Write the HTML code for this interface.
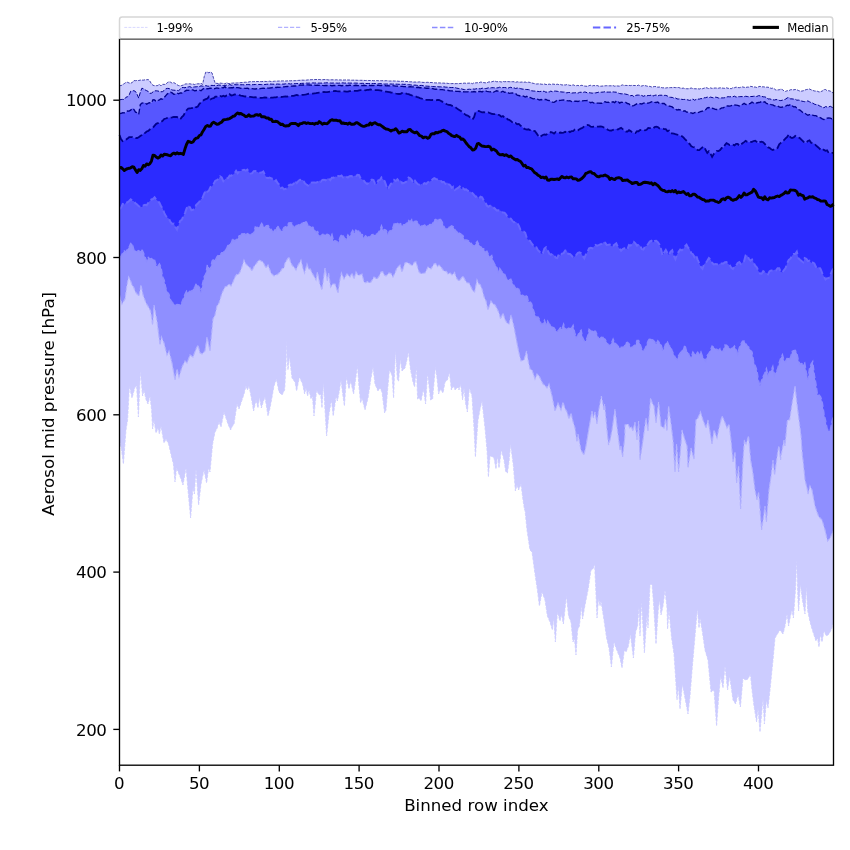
<!DOCTYPE html>
<html><head><meta charset="utf-8"><title>Aerosol mid pressure percentiles</title>
<style>
html,body{margin:0;padding:0;background:#fff}
svg{display:block}
text.tk{letter-spacing:-0.5px}
text.lt{font-size:11.67px !important;letter-spacing:-0.22px}
text{font-family:"DejaVu Sans","Liberation Sans",sans-serif;font-size:16.67px;fill:#000}
</style></head><body>
<svg width="850" height="850" viewBox="0 0 850 850">
<rect width="850" height="850" fill="#fff"/>
<g id="bands">
<polygon points="119.5,85.6 121.1,85.6 122.7,84.6 124.3,83.6 125.9,82.4 127.5,82.3 129.1,83.0 130.7,83.2 132.3,82.5 133.9,80.5 135.5,80.7 137.1,80.4 138.7,80.5 140.3,80.1 141.9,80.1 143.5,80.1 145.1,79.8 146.7,79.7 148.3,79.6 149.8,80.9 151.4,83.8 153.0,85.3 154.6,85.7 156.2,85.7 157.8,85.5 159.4,84.3 161.0,85.9 162.6,84.3 164.2,84.4 165.8,84.4 167.4,82.5 169.0,81.8 170.6,82.2 172.2,83.2 173.8,82.6 175.4,83.5 177.0,84.7 178.6,85.6 180.2,85.9 181.8,85.5 183.4,85.0 185.0,84.0 186.6,83.9 188.2,83.9 189.8,83.8 191.4,84.1 193.0,84.0 194.6,84.6 196.2,83.9 197.8,83.8 199.4,83.8 201.0,83.3 202.6,84.4 204.2,76.7 205.8,72.1 207.4,72.2 208.9,72.8 210.5,71.9 212.1,73.1 213.7,78.7 215.3,83.5 216.9,83.3 218.5,83.6 220.1,83.1 221.7,83.3 223.3,83.4 224.9,83.9 226.5,82.7 228.1,83.5 229.7,83.5 231.3,83.1 232.9,83.1 234.5,82.9 236.1,83.0 237.7,82.9 239.3,82.7 240.9,82.6 242.5,82.5 244.1,82.3 245.7,82.2 247.3,82.3 248.9,81.9 250.5,81.6 252.1,81.7 253.7,81.6 255.3,81.6 256.9,81.5 258.5,81.5 260.1,81.5 261.7,81.6 263.3,81.4 264.9,81.4 266.5,81.5 268.1,81.4 269.6,81.2 271.2,81.5 272.8,81.4 274.4,81.2 276.0,81.1 277.6,81.1 279.2,81.0 280.8,81.0 282.4,80.9 284.0,80.9 285.6,81.0 287.2,80.9 288.8,80.7 290.4,80.8 292.0,80.7 293.6,80.7 295.2,80.7 296.8,80.5 298.4,80.4 300.0,80.3 301.6,80.1 303.2,80.2 304.8,80.2 306.4,80.1 308.0,79.9 309.6,79.8 311.2,79.7 312.8,79.6 314.4,79.6 316.0,79.5 317.6,79.6 319.2,79.5 320.8,79.7 322.4,79.7 324.0,79.6 325.6,79.5 327.2,79.7 328.7,79.9 330.3,79.8 331.9,79.8 333.5,79.8 335.1,79.9 336.7,79.8 338.3,80.0 339.9,79.9 341.5,80.0 343.1,80.0 344.7,80.0 346.3,79.9 347.9,80.0 349.5,80.0 351.1,80.2 352.7,80.2 354.3,80.1 355.9,80.2 357.5,80.3 359.1,80.3 360.7,80.3 362.3,80.3 363.9,80.4 365.5,80.5 367.1,80.4 368.7,80.5 370.3,80.5 371.9,80.5 373.5,80.7 375.1,80.7 376.7,80.6 378.3,80.7 379.9,80.7 381.5,80.7 383.1,80.7 384.7,80.8 386.3,80.7 387.8,80.8 389.4,81.0 391.0,81.0 392.6,80.9 394.2,81.0 395.8,81.0 397.4,81.1 399.0,81.3 400.6,81.3 402.2,81.3 403.8,81.3 405.4,81.5 407.0,81.5 408.6,81.7 410.2,81.8 411.8,81.8 413.4,82.1 415.0,82.0 416.6,82.2 418.2,82.0 419.8,81.9 421.4,82.2 423.0,82.4 424.6,82.4 426.2,82.4 427.8,82.3 429.4,82.5 431.0,82.5 432.6,82.6 434.2,82.8 435.8,82.9 437.4,82.9 439.0,82.9 440.6,83.0 442.2,83.1 443.8,83.1 445.4,83.3 446.9,83.2 448.5,83.5 450.1,83.4 451.7,83.6 453.3,83.5 454.9,83.7 456.5,83.6 458.1,83.6 459.7,83.5 461.3,83.4 462.9,83.3 464.5,83.1 466.1,83.3 467.7,83.2 469.3,83.1 470.9,83.1 472.5,83.7 474.1,82.7 475.7,82.9 477.3,82.7 478.9,82.8 480.5,82.1 482.1,82.2 483.7,82.6 485.3,82.8 486.9,82.8 488.5,82.0 490.1,81.9 491.7,81.8 493.3,81.3 494.9,81.1 496.5,81.7 498.1,81.7 499.7,81.6 501.3,82.0 502.9,81.4 504.5,81.7 506.1,81.6 507.6,81.6 509.2,81.7 510.8,81.7 512.4,81.7 514.0,81.7 515.6,82.3 517.2,81.8 518.8,82.1 520.4,82.2 522.0,82.0 523.6,82.3 525.2,82.0 526.8,82.6 528.4,82.2 530.0,82.4 531.6,82.9 533.2,83.3 534.8,83.7 536.4,84.0 538.0,83.9 539.6,83.8 541.2,84.2 542.8,84.3 544.4,84.0 546.0,84.5 547.6,84.5 549.2,84.1 550.8,84.5 552.4,84.1 554.0,84.2 555.6,84.6 557.2,84.2 558.8,84.6 560.4,84.4 562.0,85.0 563.6,84.8 565.2,85.0 566.7,84.6 568.3,84.9 569.9,85.4 571.5,85.4 573.1,84.8 574.7,85.5 576.3,85.7 577.9,85.4 579.5,85.9 581.1,85.3 582.7,85.5 584.3,86.0 585.9,86.2 587.5,86.3 589.1,85.6 590.7,85.3 592.3,85.9 593.9,85.5 595.5,85.8 597.1,85.5 598.7,86.1 600.3,86.2 601.9,86.1 603.5,85.9 605.1,85.8 606.7,85.7 608.3,85.8 609.9,85.8 611.5,85.8 613.1,85.6 614.7,86.2 616.3,85.8 617.9,86.0 619.5,86.1 621.1,85.4 622.7,84.9 624.3,85.6 625.8,85.4 627.4,85.5 629.0,85.4 630.6,85.6 632.2,85.3 633.8,85.5 635.4,85.5 637.0,85.7 638.6,85.1 640.2,85.9 641.8,86.0 643.4,85.5 645.0,85.6 646.6,86.0 648.2,86.4 649.8,86.4 651.4,86.9 653.0,86.8 654.6,86.5 656.2,86.6 657.8,87.2 659.4,87.0 661.0,87.5 662.6,87.8 664.2,87.8 665.8,88.0 667.4,87.7 669.0,87.7 670.6,87.6 672.2,87.6 673.8,87.4 675.4,87.6 677.0,87.6 678.6,87.5 680.2,88.0 681.8,88.3 683.4,88.1 684.9,88.7 686.5,88.7 688.1,88.8 689.7,88.4 691.3,88.0 692.9,88.6 694.5,88.7 696.1,88.8 697.7,88.7 699.3,89.0 700.9,88.5 702.5,88.7 704.1,88.2 705.7,87.6 707.3,88.0 708.9,88.7 710.5,87.9 712.1,88.4 713.7,88.1 715.3,88.0 716.9,88.1 718.5,88.2 720.1,87.8 721.7,88.0 723.3,88.2 724.9,88.3 726.5,87.8 728.1,88.3 729.7,88.5 731.3,88.7 732.9,87.6 734.5,87.7 736.1,87.1 737.7,87.5 739.3,87.7 740.9,87.2 742.5,86.9 744.1,87.3 745.6,87.5 747.2,87.1 748.8,87.1 750.4,86.4 752.0,86.6 753.6,87.0 755.2,87.0 756.8,87.5 758.4,86.8 760.0,86.3 761.6,86.9 763.2,86.8 764.8,87.0 766.4,87.2 768.0,87.2 769.6,87.7 771.2,88.4 772.8,88.1 774.4,88.9 776.0,90.2 777.6,89.9 779.2,89.8 780.8,89.1 782.4,89.6 784.0,90.9 785.6,91.4 787.2,90.7 788.8,90.7 790.4,89.8 792.0,89.6 793.6,89.8 795.2,89.5 796.8,89.7 798.4,90.5 800.0,91.1 801.6,91.1 803.2,90.8 804.7,90.1 806.3,89.6 807.9,89.3 809.5,89.0 811.1,89.8 812.7,90.4 814.3,90.9 815.9,91.1 817.5,91.3 819.1,92.0 820.7,91.6 822.3,91.0 823.9,89.6 825.5,89.5 827.1,90.7 828.7,90.7 830.3,91.1 831.9,92.1 833.5,93.4 833.5,622.0 831.6,629.0 829.0,634.0 826.4,636.0 824.0,631.0 822.0,642.0 820.4,634.0 819.0,647.0 817.6,638.0 816.0,641.0 813.0,632.0 811.3,626.6 809.6,620.0 807.6,610.0 806.4,586.0 805.0,614.0 802.4,600.0 800.4,584.0 798.6,611.0 798.0,600.0 796.6,560.0 795.6,588.0 793.4,618.0 792.0,610.0 790.3,616.7 788.6,626.0 787.0,614.0 785.0,626.0 783.0,634.0 780.0,630.0 778.0,633.0 775.0,638.0 773.0,660.0 772.4,666.0 770.0,690.0 768.0,708.0 766.4,700.0 764.4,724.0 763.0,698.0 760.0,732.0 758.0,708.0 756.6,722.0 754.0,706.0 752.0,690.0 750.4,674.0 748.0,679.0 745.0,680.0 743.0,678.0 740.4,707.0 738.0,694.0 735.6,704.0 733.0,700.0 731.3,687.8 729.6,676.0 727.6,690.0 725.0,666.0 723.0,688.0 720.6,676.0 718.6,698.0 716.6,726.0 714.0,690.0 711.0,692.0 708.0,660.0 705.0,650.0 702.4,632.0 700.0,618.0 699.0,628.0 697.4,608.0 695.0,636.0 692.4,666.0 690.0,696.0 688.0,714.0 685.0,698.0 682.4,684.0 680.0,709.0 678.4,686.0 677.0,700.0 675.6,678.0 674.0,654.0 671.6,638.0 669.0,610.0 667.6,629.0 667.0,608.0 665.0,590.0 663.0,606.0 661.0,615.0 659.6,600.0 658.4,608.0 656.0,644.0 653.6,604.0 652.0,584.0 650.0,585.0 648.0,628.0 647.0,614.0 644.4,653.0 641.6,602.0 640.0,636.0 639.0,606.0 637.6,626.0 635.6,632.0 633.4,658.0 630.4,634.0 628.4,646.0 626.0,652.0 624.4,650.0 622.0,668.0 620.0,658.0 618.0,653.0 616.0,648.0 614.0,642.0 611.4,667.0 609.0,648.0 606.6,638.0 604.0,620.0 601.0,601.0 600.0,606.0 598.6,598.0 597.0,618.0 596.0,594.0 594.6,564.0 593.0,569.0 591.0,570.0 588.0,590.0 586.0,600.0 584.3,608.9 582.6,619.0 581.4,606.0 579.4,626.0 577.6,630.0 576.0,655.0 574.4,638.0 573.0,642.0 571.0,622.0 568.6,616.0 566.4,596.0 563.4,624.0 561.4,614.0 560.0,621.0 557.4,612.0 555.4,642.0 553.6,618.0 552.4,630.0 550.0,622.0 547.4,616.0 545.0,600.0 542.0,592.0 539.4,606.0 537.4,590.0 535.0,574.0 532.0,552.0 530.0,550.0 527.0,530.0 525.0,510.0 524.6,510.0 523.0,500.0 521.0,484.0 518.6,490.0 517.0,485.0 515.4,491.0 513.4,466.0 510.6,444.0 509.0,462.0 507.4,473.0 505.7,471.5 504.0,460.0 501.4,450.0 499.0,468.0 497.4,456.0 496.0,469.0 494.0,458.0 492.0,456.4 490.0,456.0 488.4,477.0 487.0,450.0 485.0,428.0 482.0,401.0 480.0,409.6 478.0,420.0 475.4,457.0 474.0,428.0 472.0,396.0 469.4,388.0 467.4,412.0 465.7,403.9 464.0,388.0 462.6,400.0 460.6,384.0 459.0,390.0 458.0,387.0 455.0,390.0 454.6,388.0 453.0,386.5 451.4,390.0 449.4,372.0 447.4,380.0 445.0,382.0 443.0,393.0 440.6,389.0 438.6,394.0 437.0,377.9 435.4,367.0 432.6,399.0 430.6,400.0 427.6,373.0 425.6,404.0 423.4,389.0 421.0,401.0 419.4,398.0 417.6,399.0 416.4,367.0 414.6,387.0 413.0,382.0 410.6,370.0 408.4,352.0 406.7,360.9 405.0,368.0 402.0,371.0 400.4,359.0 398.6,381.0 397.4,380.0 395.4,350.0 393.6,398.0 392.0,375.0 389.4,370.0 387.7,388.9 386.0,410.0 384.6,413.0 382.0,392.0 380.0,388.0 378.0,391.0 375.0,384.0 373.0,367.0 371.0,378.0 368.0,398.0 365.0,410.0 362.0,398.0 360.6,403.0 359.0,386.8 357.4,366.0 355.5,380.3 353.6,394.0 350.6,381.0 349.0,389.0 346.4,377.0 344.4,406.0 342.7,393.8 341.0,380.0 339.2,391.7 337.4,401.0 336.0,397.0 333.2,416.0 331.4,400.0 329.0,414.0 326.6,436.0 325.0,410.0 323.4,382.0 322.0,408.0 320.6,394.0 319.0,395.0 316.6,390.0 314.0,416.0 312.4,396.0 311.0,399.0 309.0,390.0 307.6,396.0 306.0,388.0 304.6,394.0 302.6,384.0 301.0,380.6 299.4,377.0 296.6,391.0 295.0,382.0 292.0,378.0 289.4,356.0 288.0,370.0 287.2,360.0 286.6,340.0 286.2,360.0 285.0,384.0 284.6,390.0 282.0,395.0 279.0,392.0 276.4,379.0 274.0,386.0 272.0,397.2 270.0,408.0 268.0,416.0 265.0,397.0 263.2,401.7 261.4,408.0 259.4,397.0 258.0,408.0 256.0,400.0 253.6,411.0 251.0,396.0 249.0,386.0 247.4,390.0 246.0,386.0 244.0,393.9 242.0,400.0 239.0,409.0 237.0,404.0 234.0,424.0 232.3,426.2 230.6,430.0 228.0,424.0 226.0,418.0 224.0,412.0 221.0,427.0 219.0,422.0 217.0,428.5 215.0,432.0 212.6,444.0 210.0,472.0 208.6,468.0 206.6,483.0 204.0,470.0 201.0,484.0 198.6,505.0 196.0,469.0 194.4,494.0 193.0,488.0 190.6,518.0 188.0,490.0 186.0,468.0 183.0,485.0 181.0,479.0 179.0,474.0 176.6,468.0 175.0,482.0 173.4,464.0 171.4,456.0 168.6,444.0 166.0,439.0 164.0,443.0 161.0,426.0 159.4,434.0 158.0,428.0 156.0,433.0 154.0,420.0 152.6,429.0 151.6,410.0 150.0,396.0 148.0,404.0 146.0,399.6 144.0,390.0 142.6,396.0 140.4,371.0 138.4,417.0 136.6,386.0 135.0,387.0 132.0,398.0 129.4,386.0 127.6,420.0 126.0,430.0 123.4,464.0 121.5,449.5 119.5,440.0" fill="#ccccff"/>
<polygon points="119.5,99.9 121.1,99.5 122.7,99.4 124.3,99.6 125.9,97.3 127.5,96.7 129.1,95.2 130.7,91.2 132.3,90.9 133.9,90.7 135.5,91.5 137.1,94.3 138.7,98.1 140.3,92.3 141.9,88.2 143.5,88.8 145.1,89.9 146.7,90.7 148.3,91.5 149.8,93.3 151.4,93.2 153.0,91.9 154.6,90.9 156.2,90.8 157.8,91.0 159.4,91.4 161.0,91.8 162.6,91.6 164.2,90.4 165.8,88.8 167.4,88.4 169.0,88.5 170.6,89.2 172.2,90.0 173.8,90.2 175.4,90.3 177.0,90.3 178.6,90.7 180.2,89.2 181.8,87.6 183.4,87.5 185.0,87.8 186.6,86.9 188.2,87.0 189.8,86.6 191.4,87.4 193.0,87.1 194.6,86.9 196.2,86.8 197.8,86.6 199.4,86.5 201.0,85.8 202.6,86.2 204.2,86.3 205.8,85.6 207.4,86.1 208.9,86.2 210.5,85.4 212.1,85.4 213.7,85.5 215.3,85.3 216.9,85.6 218.5,85.1 220.1,85.2 221.7,85.4 223.3,85.6 224.9,85.4 226.5,85.2 228.1,85.4 229.7,84.5 231.3,85.2 232.9,85.0 234.5,84.6 236.1,84.8 237.7,84.7 239.3,84.6 240.9,84.8 242.5,84.7 244.1,84.9 245.7,84.7 247.3,84.6 248.9,84.6 250.5,84.8 252.1,84.7 253.7,84.6 255.3,84.5 256.9,84.4 258.5,84.5 260.1,84.5 261.7,84.6 263.3,84.6 264.9,84.5 266.5,84.3 268.1,84.2 269.6,84.0 271.2,84.1 272.8,84.2 274.4,84.2 276.0,84.2 277.6,84.0 279.2,84.2 280.8,84.1 282.4,84.1 284.0,84.1 285.6,83.8 287.2,83.8 288.8,83.7 290.4,84.0 292.0,83.8 293.6,83.7 295.2,83.7 296.8,83.5 298.4,83.7 300.0,83.5 301.6,83.4 303.2,83.3 304.8,83.4 306.4,83.1 308.0,83.2 309.6,83.1 311.2,83.1 312.8,82.9 314.4,83.0 316.0,83.0 317.6,83.1 319.2,83.1 320.8,83.1 322.4,83.1 324.0,83.0 325.6,82.9 327.2,82.8 328.7,83.0 330.3,83.0 331.9,83.1 333.5,83.0 335.1,82.9 336.7,83.1 338.3,83.2 339.9,83.0 341.5,82.9 343.1,82.9 344.7,83.1 346.3,83.0 347.9,83.0 349.5,83.1 351.1,83.1 352.7,83.2 354.3,83.1 355.9,83.1 357.5,83.2 359.1,83.3 360.7,83.4 362.3,83.3 363.9,83.4 365.5,83.5 367.1,83.5 368.7,83.5 370.3,83.6 371.9,83.6 373.5,83.6 375.1,83.5 376.7,83.7 378.3,83.7 379.9,83.7 381.5,83.7 383.1,83.8 384.7,84.1 386.3,84.0 387.8,84.0 389.4,84.0 391.0,84.0 392.6,84.1 394.2,84.0 395.8,84.1 397.4,84.2 399.0,84.3 400.6,84.3 402.2,84.2 403.8,84.4 405.4,84.3 407.0,84.6 408.6,84.7 410.2,84.8 411.8,85.0 413.4,85.2 415.0,85.1 416.6,85.3 418.2,85.5 419.8,85.5 421.4,85.4 423.0,85.7 424.6,85.9 426.2,86.1 427.8,86.2 429.4,86.3 431.0,86.3 432.6,86.6 434.2,86.6 435.8,86.7 437.4,86.6 439.0,86.9 440.6,86.8 442.2,87.0 443.8,86.8 445.4,87.1 446.9,87.2 448.5,87.2 450.1,87.5 451.7,87.5 453.3,87.5 454.9,87.5 456.5,88.1 458.1,88.4 459.7,88.7 461.3,88.8 462.9,89.3 464.5,89.6 466.1,89.5 467.7,89.4 469.3,89.2 470.9,89.4 472.5,88.8 474.1,89.2 475.7,88.9 477.3,88.6 478.9,88.8 480.5,88.8 482.1,88.2 483.7,88.3 485.3,88.6 486.9,88.3 488.5,87.8 490.1,88.0 491.7,87.7 493.3,87.7 494.9,87.9 496.5,87.9 498.1,87.8 499.7,87.2 501.3,87.7 502.9,87.6 504.5,87.5 506.1,87.7 507.6,88.4 509.2,87.6 510.8,87.3 512.4,88.0 514.0,87.8 515.6,88.5 517.2,88.0 518.8,88.1 520.4,88.6 522.0,89.0 523.6,89.2 525.2,89.4 526.8,89.5 528.4,89.6 530.0,90.0 531.6,90.8 533.2,91.0 534.8,91.1 536.4,91.2 538.0,91.4 539.6,91.6 541.2,91.3 542.8,91.2 544.4,91.4 546.0,92.3 547.6,91.7 549.2,92.0 550.8,91.1 552.4,91.7 554.0,91.1 555.6,91.1 557.2,91.3 558.8,91.6 560.4,91.8 562.0,92.0 563.6,92.1 565.2,91.9 566.7,92.9 568.3,92.5 569.9,92.5 571.5,93.1 573.1,92.9 574.7,92.8 576.3,92.7 577.9,93.2 579.5,92.4 581.1,92.2 582.7,92.6 584.3,92.0 585.9,92.2 587.5,93.0 589.1,92.7 590.7,92.9 592.3,93.2 593.9,92.6 595.5,92.9 597.1,92.6 598.7,92.2 600.3,92.2 601.9,92.2 603.5,92.0 605.1,91.7 606.7,92.1 608.3,92.1 609.9,92.1 611.5,92.0 613.1,91.9 614.7,92.1 616.3,92.2 617.9,92.9 619.5,93.5 621.1,93.8 622.7,93.8 624.3,93.8 625.8,94.2 627.4,94.5 629.0,95.0 630.6,95.7 632.2,95.4 633.8,96.5 635.4,95.5 637.0,95.1 638.6,95.1 640.2,95.2 641.8,95.5 643.4,96.3 645.0,95.6 646.6,95.9 648.2,95.5 649.8,95.5 651.4,95.0 653.0,96.0 654.6,95.4 656.2,95.0 657.8,95.9 659.4,95.3 661.0,95.2 662.6,95.3 664.2,95.4 665.8,95.4 667.4,96.0 669.0,97.1 670.6,97.3 672.2,97.4 673.8,98.1 675.4,97.9 677.0,98.9 678.6,99.0 680.2,98.8 681.8,99.4 683.4,99.5 684.9,99.4 686.5,99.6 688.1,100.0 689.7,100.4 691.3,99.8 692.9,99.0 694.5,100.2 696.1,99.5 697.7,99.1 699.3,99.1 700.9,98.6 702.5,98.7 704.1,97.8 705.7,97.7 707.3,97.1 708.9,97.7 710.5,97.1 712.1,97.5 713.7,97.9 715.3,97.2 716.9,97.4 718.5,98.0 720.1,98.0 721.7,97.9 723.3,97.9 724.9,97.7 726.5,97.0 728.1,96.7 729.7,96.8 731.3,96.7 732.9,96.7 734.5,96.2 736.1,97.1 737.7,96.7 739.3,96.7 740.9,96.6 742.5,96.6 744.1,96.7 745.6,96.3 747.2,96.5 748.8,96.8 750.4,96.5 752.0,96.5 753.6,96.3 755.2,96.1 756.8,96.5 758.4,95.7 760.0,95.8 761.6,96.3 763.2,96.8 764.8,96.9 766.4,97.4 768.0,99.0 769.6,98.9 771.2,99.3 772.8,99.8 774.4,100.0 776.0,99.6 777.6,99.6 779.2,100.4 780.8,100.6 782.4,100.2 784.0,99.7 785.6,99.1 787.2,97.9 788.8,97.5 790.4,98.8 792.0,98.9 793.6,99.1 795.2,99.2 796.8,100.2 798.4,100.1 800.0,100.3 801.6,101.1 803.2,101.4 804.7,101.7 806.3,101.4 807.9,100.9 809.5,101.8 811.1,102.6 812.7,103.1 814.3,104.1 815.9,104.6 817.5,104.6 819.1,105.7 820.7,106.4 822.3,107.1 823.9,107.8 825.5,106.6 827.1,107.0 828.7,106.9 830.3,106.3 831.9,107.2 833.5,107.9 833.5,530.0 831.8,534.0 830.0,538.0 827.6,541.0 825.0,530.0 822.0,520.0 820.3,518.2 818.7,516.5 817.0,512.0 815.0,506.0 812.0,490.0 810.0,486.0 808.0,494.0 807.0,488.0 805.0,480.0 803.0,460.0 802.4,456.0 801.0,436.0 799.0,420.0 797.0,404.0 795.0,386.0 792.0,404.0 789.6,420.0 787.4,420.0 785.0,446.0 784.0,440.0 781.0,456.0 780.6,460.0 779.0,446.0 778.0,450.0 776.3,462.2 774.6,475.0 773.0,460.0 771.0,476.5 769.0,490.0 766.4,522.0 765.0,506.0 763.3,518.6 761.6,530.0 758.6,492.0 757.0,500.0 755.0,490.0 752.8,472.3 750.6,460.0 748.6,436.0 746.0,444.0 744.4,440.0 743.0,460.0 740.6,509.0 738.6,466.0 736.6,483.0 735.0,452.0 733.0,462.0 731.0,440.0 729.0,424.0 727.0,428.0 724.0,420.0 722.0,416.0 719.0,428.0 717.0,438.0 714.0,430.0 712.0,444.0 710.0,432.0 708.0,420.0 706.0,428.0 703.0,420.0 700.4,412.0 698.0,418.0 696.0,420.0 694.0,459.0 691.0,448.0 688.0,468.0 687.0,446.0 685.0,440.0 682.0,430.0 681.0,444.0 678.6,472.0 676.6,444.0 675.0,472.0 673.0,440.0 671.0,424.0 668.6,406.0 667.0,431.0 665.6,419.0 664.0,428.0 661.0,426.0 658.6,402.0 656.0,423.0 654.0,406.0 652.3,403.3 650.6,398.0 648.0,431.0 646.0,418.0 643.0,440.0 640.0,460.0 638.6,421.0 637.0,440.0 635.0,422.0 633.0,431.0 631.3,426.7 629.7,427.9 628.0,424.0 625.0,425.0 624.8,437.0 622.6,457.0 621.0,446.0 620.0,450.0 617.4,430.0 615.0,409.0 612.0,430.0 610.3,438.8 608.6,445.0 607.0,430.0 604.6,404.0 604.0,410.0 601.4,396.0 598.6,411.0 597.0,424.0 595.0,412.0 593.4,418.0 592.0,411.0 589.0,428.0 586.0,446.0 584.0,455.0 581.0,450.0 578.0,434.0 577.0,442.0 575.0,428.0 573.0,421.6 571.0,413.0 569.0,419.0 567.0,412.0 565.0,408.5 563.0,402.0 561.0,410.0 558.0,403.0 555.0,411.0 552.0,396.0 549.0,384.0 547.0,388.0 545.0,385.4 543.0,384.0 541.0,380.0 539.0,375.8 537.0,374.0 535.0,379.0 532.0,370.0 530.0,369.0 528.3,361.6 526.6,351.0 524.0,360.0 521.0,361.0 519.0,353.0 517.0,343.0 514.0,327.0 511.0,315.0 509.0,324.0 507.0,323.0 505.0,319.5 503.0,313.0 500.6,319.0 499.0,313.0 497.0,308.6 495.0,305.0 493.0,303.7 491.0,301.0 488.0,310.0 486.0,301.0 484.0,296.8 482.0,289.0 480.3,284.9 478.7,283.8 477.0,280.0 474.6,292.0 472.7,290.5 470.9,286.7 469.0,283.0 467.0,282.8 465.0,279.9 463.0,276.0 461.0,278.6 459.0,281.0 457.0,279.0 455.0,274.0 454.6,272.4 452.0,275.0 450.0,272.9 448.0,274.0 446.3,271.3 444.7,271.3 443.0,270.0 441.0,267.1 439.0,265.0 437.3,266.6 435.7,263.4 434.0,264.0 431.0,269.0 428.0,267.0 425.0,273.0 423.0,273.2 421.0,273.8 419.0,272.0 416.0,262.0 414.3,262.2 412.7,265.3 411.0,265.0 409.0,263.6 407.0,262.4 405.0,263.0 402.0,272.0 400.0,265.0 397.0,268.0 395.0,272.9 393.0,277.0 391.0,273.5 389.0,273.0 386.0,276.0 384.3,275.1 382.7,271.7 381.0,272.0 379.0,276.4 377.0,279.0 374.0,277.0 371.0,282.0 369.2,283.0 367.5,281.5 365.8,282.8 364.0,282.0 362.0,274.0 360.0,275.0 358.0,275.3 356.0,272.0 354.0,279.0 352.0,273.0 350.0,277.0 347.0,274.0 344.0,279.0 341.4,273.0 339.7,281.2 338.0,293.0 335.0,284.0 332.8,284.0 330.6,287.0 328.6,273.0 327.4,281.0 325.0,268.0 322.0,290.0 319.7,283.7 317.4,272.0 316.0,280.0 314.0,276.2 312.0,273.0 310.3,268.9 308.7,269.3 307.0,264.0 304.6,273.0 302.8,267.7 301.0,260.0 299.3,263.1 297.7,266.0 296.0,270.0 294.0,267.0 292.3,265.6 290.7,262.5 289.0,257.0 287.0,259.8 285.0,263.0 284.0,268.0 282.3,268.5 280.7,271.1 279.0,273.0 277.3,274.7 275.7,274.8 274.0,276.0 271.0,273.0 268.0,265.0 266.0,268.0 263.0,262.0 261.0,261.1 259.0,260.0 256.0,264.0 254.0,266.5 252.0,271.0 250.0,267.7 248.0,266.0 246.0,264.2 244.0,260.0 242.0,266.6 240.0,272.0 238.3,274.6 236.7,274.4 235.0,277.0 233.0,281.9 231.0,286.0 229.0,284.0 227.0,286.3 225.0,287.0 222.0,293.0 219.0,303.0 217.0,306.0 215.0,315.0 213.0,319.0 210.0,351.0 207.0,337.0 205.0,351.0 202.0,354.0 200.0,352.8 198.0,345.0 196.0,349.0 193.0,357.0 190.0,355.0 187.0,363.0 185.0,361.0 182.0,367.0 179.0,377.0 177.0,369.0 175.0,380.0 172.0,363.0 169.0,351.0 167.0,355.0 164.0,343.0 161.4,337.0 160.0,345.0 159.0,337.0 157.0,321.0 154.0,305.0 152.6,325.0 150.6,311.0 149.0,308.0 146.0,303.0 143.0,295.0 141.0,285.0 139.0,296.0 137.0,294.0 135.3,291.7 133.7,287.3 132.0,285.0 130.3,280.0 128.6,277.0 126.8,286.2 125.0,299.0 122.0,304.0 119.5,295.0" fill="#8f8fff"/>
<polygon points="119.5,113.5 121.1,113.3 122.7,112.8 124.3,112.9 125.9,112.4 127.5,111.0 129.1,111.1 130.7,110.2 132.3,108.3 133.9,109.4 135.5,112.1 137.1,112.7 138.7,114.3 140.3,104.6 141.9,103.2 143.5,102.8 145.1,102.8 146.7,104.2 148.3,103.2 149.8,102.8 151.4,102.9 153.0,99.7 154.6,100.0 156.2,101.5 157.8,100.5 159.4,99.8 161.0,98.8 162.6,99.1 164.2,97.5 165.8,95.6 167.4,93.8 169.0,93.0 170.6,92.3 172.2,92.9 173.8,94.3 175.4,94.2 177.0,92.9 178.6,93.8 180.2,92.9 181.8,93.0 183.4,91.6 185.0,91.1 186.6,90.3 188.2,90.4 189.8,90.1 191.4,89.9 193.0,89.9 194.6,90.8 196.2,90.5 197.8,90.4 199.4,90.2 201.0,90.7 202.6,89.2 204.2,88.3 205.8,88.7 207.4,88.7 208.9,88.5 210.5,88.1 212.1,88.5 213.7,88.9 215.3,88.3 216.9,87.9 218.5,88.4 220.1,87.9 221.7,87.6 223.3,87.8 224.9,86.7 226.5,88.2 228.1,87.7 229.7,87.8 231.3,87.7 232.9,87.7 234.5,86.9 236.1,87.6 237.7,87.7 239.3,87.8 240.9,88.3 242.5,88.0 244.1,88.2 245.7,88.3 247.3,88.2 248.9,88.7 250.5,88.5 252.1,88.7 253.7,88.9 255.3,89.0 256.9,88.7 258.5,88.9 260.1,88.7 261.7,88.4 263.3,88.2 264.9,88.3 266.5,88.0 268.1,88.1 269.6,88.0 271.2,87.8 272.8,87.5 274.4,87.4 276.0,87.5 277.6,87.3 279.2,87.4 280.8,87.0 282.4,86.9 284.0,86.8 285.6,86.6 287.2,86.5 288.8,86.4 290.4,86.2 292.0,86.1 293.6,85.9 295.2,86.0 296.8,85.8 298.4,85.7 300.0,85.0 301.6,85.1 303.2,84.9 304.8,85.0 306.4,84.9 308.0,84.9 309.6,85.0 311.2,85.2 312.8,85.3 314.4,85.1 316.0,85.3 317.6,85.1 319.2,85.3 320.8,85.1 322.4,85.4 324.0,85.6 325.6,85.4 327.2,85.5 328.7,85.2 330.3,85.3 331.9,85.7 333.5,85.5 335.1,85.5 336.7,85.3 338.3,85.4 339.9,85.4 341.5,85.7 343.1,85.5 344.7,85.9 346.3,85.5 347.9,85.6 349.5,85.3 351.1,85.4 352.7,85.6 354.3,85.5 355.9,85.3 357.5,85.5 359.1,85.6 360.7,85.5 362.3,85.6 363.9,85.3 365.5,85.6 367.1,85.6 368.7,85.2 370.3,85.6 371.9,85.5 373.5,85.6 375.1,85.3 376.7,85.4 378.3,85.2 379.9,85.6 381.5,85.5 383.1,85.4 384.7,85.5 386.3,85.8 387.8,85.7 389.4,85.9 391.0,85.8 392.6,85.7 394.2,85.9 395.8,86.1 397.4,86.2 399.0,86.4 400.6,86.4 402.2,86.4 403.8,86.6 405.4,86.7 407.0,86.8 408.6,86.9 410.2,86.7 411.8,86.9 413.4,86.9 415.0,87.2 416.6,87.5 418.2,87.3 419.8,87.7 421.4,87.7 423.0,87.8 424.6,87.9 426.2,88.2 427.8,88.2 429.4,88.1 431.0,88.6 432.6,88.7 434.2,89.0 435.8,89.2 437.4,89.1 439.0,89.4 440.6,89.6 442.2,89.7 443.8,89.9 445.4,90.1 446.9,90.2 448.5,90.5 450.1,90.8 451.7,90.8 453.3,91.1 454.9,91.2 456.5,91.3 458.1,91.4 459.7,91.5 461.3,91.8 462.9,91.7 464.5,91.8 466.1,91.8 467.7,91.8 469.3,91.4 470.9,91.8 472.5,91.9 474.1,91.5 475.7,91.9 477.3,92.5 478.9,91.5 480.5,91.4 482.1,92.0 483.7,90.8 485.3,90.8 486.9,91.3 488.5,91.7 490.1,91.9 491.7,91.7 493.3,92.3 494.9,91.5 496.5,90.8 498.1,91.2 499.7,91.8 501.3,92.0 502.9,91.2 504.5,92.2 506.1,92.1 507.6,92.4 509.2,93.4 510.8,93.2 512.4,93.0 514.0,93.3 515.6,93.5 517.2,95.2 518.8,95.5 520.4,96.0 522.0,95.9 523.6,96.2 525.2,97.1 526.8,96.4 528.4,97.9 530.0,97.5 531.6,98.2 533.2,98.8 534.8,98.6 536.4,99.1 538.0,99.3 539.6,100.0 541.2,99.5 542.8,100.0 544.4,99.5 546.0,99.4 547.6,100.4 549.2,100.5 550.8,101.2 552.4,102.1 554.0,102.3 555.6,101.4 557.2,100.0 558.8,100.5 560.4,100.3 562.0,100.1 563.6,99.9 565.2,100.5 566.7,100.7 568.3,100.9 569.9,100.7 571.5,101.5 573.1,101.0 574.7,101.2 576.3,101.2 577.9,101.5 579.5,100.8 581.1,100.8 582.7,100.8 584.3,100.7 585.9,100.6 587.5,100.5 589.1,101.7 590.7,102.7 592.3,102.2 593.9,103.1 595.5,102.8 597.1,103.1 598.7,103.1 600.3,103.2 601.9,103.2 603.5,102.0 605.1,101.8 606.7,102.3 608.3,102.1 609.9,103.0 611.5,102.2 613.1,101.8 614.7,102.6 616.3,101.1 617.9,101.0 619.5,103.1 621.1,102.3 622.7,102.4 624.3,102.3 625.8,102.4 627.4,103.5 629.0,103.9 630.6,105.6 632.2,105.8 633.8,105.6 635.4,104.7 637.0,103.8 638.6,104.0 640.2,103.6 641.8,104.0 643.4,103.1 645.0,103.0 646.6,103.1 648.2,103.1 649.8,102.7 651.4,101.8 653.0,101.5 654.6,102.4 656.2,102.5 657.8,102.1 659.4,103.5 661.0,103.2 662.6,103.5 664.2,103.4 665.8,105.0 667.4,105.4 669.0,106.0 670.6,106.4 672.2,106.9 673.8,108.3 675.4,109.0 677.0,110.1 678.6,109.5 680.2,109.8 681.8,110.7 683.4,111.1 684.9,110.8 686.5,112.0 688.1,112.2 689.7,112.7 691.3,112.9 692.9,113.5 694.5,112.7 696.1,112.4 697.7,112.7 699.3,112.2 700.9,111.5 702.5,111.2 704.1,110.2 705.7,109.6 707.3,107.8 708.9,107.5 710.5,108.5 712.1,108.3 713.7,108.7 715.3,109.3 716.9,109.5 718.5,109.4 720.1,108.8 721.7,107.9 723.3,107.8 724.9,106.7 726.5,105.9 728.1,106.0 729.7,106.1 731.3,105.7 732.9,105.0 734.5,105.0 736.1,105.2 737.7,105.4 739.3,105.9 740.9,105.0 742.5,104.5 744.1,103.4 745.6,104.4 747.2,104.5 748.8,103.9 750.4,103.3 752.0,102.1 753.6,103.1 755.2,102.6 756.8,103.0 758.4,102.5 760.0,102.3 761.6,101.3 763.2,102.1 764.8,101.8 766.4,103.5 768.0,103.8 769.6,103.9 771.2,104.7 772.8,104.9 774.4,105.8 776.0,106.0 777.6,106.0 779.2,106.8 780.8,107.3 782.4,107.0 784.0,106.6 785.6,106.2 787.2,105.2 788.8,105.5 790.4,104.4 792.0,105.6 793.6,106.8 795.2,106.6 796.8,108.1 798.4,109.6 800.0,110.1 801.6,111.6 803.2,112.8 804.7,113.0 806.3,114.2 807.9,115.2 809.5,114.7 811.1,114.4 812.7,115.1 814.3,115.6 815.9,115.7 817.5,116.7 819.1,117.3 820.7,117.9 822.3,118.9 823.9,119.6 825.5,118.9 827.1,118.1 828.7,117.9 830.3,118.2 831.9,118.9 833.5,119.0 833.5,416.1 831.9,422.2 830.3,430.3 828.7,430.7 827.1,428.7 825.5,420.2 823.9,413.2 822.3,402.8 820.7,397.1 819.1,395.0 817.5,395.1 815.9,383.8 814.3,374.8 812.7,361.7 811.1,364.2 809.5,368.7 807.9,379.7 806.3,372.4 804.7,363.1 803.2,364.7 801.6,363.5 800.0,364.2 798.4,360.5 796.8,353.0 795.2,350.4 793.6,350.7 792.0,351.5 790.4,358.4 788.8,358.1 787.2,357.8 785.6,361.8 784.0,360.4 782.4,354.8 780.8,358.0 779.2,362.8 777.6,369.1 776.0,372.2 774.4,375.0 772.8,366.6 771.2,370.2 769.6,372.1 768.0,375.7 766.4,368.9 764.8,373.3 763.2,376.5 761.6,380.5 760.0,386.1 758.4,380.1 756.8,370.0 755.2,365.8 753.6,361.4 752.0,352.1 750.4,350.3 748.8,347.2 747.2,346.1 745.6,343.3 744.1,341.1 742.5,341.2 740.9,344.0 739.3,348.0 737.7,354.1 736.1,349.9 734.5,346.1 732.9,348.0 731.3,348.6 729.7,348.2 728.1,346.9 726.5,345.3 724.9,345.0 723.3,351.3 721.7,351.2 720.1,348.7 718.5,350.5 716.9,349.3 715.3,348.5 713.7,347.4 712.1,346.2 710.5,350.2 708.9,353.6 707.3,355.3 705.7,361.0 704.1,358.8 702.5,356.5 700.9,351.9 699.3,354.6 697.7,352.3 696.1,354.3 694.5,354.1 692.9,352.1 691.3,357.3 689.7,357.1 688.1,352.2 686.5,351.1 684.9,345.0 683.4,350.2 681.8,350.1 680.2,353.2 678.6,355.6 677.0,359.5 675.4,357.8 673.8,354.5 672.2,351.1 670.6,346.8 669.0,345.7 667.4,341.9 665.8,343.3 664.2,348.5 662.6,350.4 661.0,344.6 659.4,342.7 657.8,340.8 656.2,344.1 654.6,341.7 653.0,340.2 651.4,339.3 649.8,338.3 648.2,340.8 646.6,344.9 645.0,349.0 643.4,350.9 641.8,349.4 640.2,344.3 638.6,340.5 637.0,340.5 635.4,345.0 633.8,345.9 632.2,347.5 630.6,347.2 629.0,343.7 627.4,342.3 625.8,342.9 624.3,346.8 622.7,347.2 621.1,347.2 619.5,347.8 617.9,346.1 616.3,344.3 614.7,343.1 613.1,339.1 611.5,342.8 609.9,345.8 608.3,344.8 606.7,342.1 605.1,339.2 603.5,338.4 601.9,336.1 600.3,338.6 598.7,338.8 597.1,334.9 595.5,331.2 593.9,331.2 592.3,330.4 590.7,330.9 589.1,329.5 587.5,336.9 585.9,340.8 584.3,341.2 582.7,337.8 581.1,330.3 579.5,331.9 577.9,335.3 576.3,337.7 574.7,332.7 573.1,325.5 571.5,328.3 569.9,327.5 568.3,328.5 566.7,329.6 565.2,328.8 563.6,324.2 562.0,328.9 560.4,327.7 558.8,329.9 557.2,331.8 555.6,330.3 554.0,327.8 552.4,327.3 550.8,325.3 549.2,324.0 547.6,321.1 546.0,324.4 544.4,320.4 542.8,324.0 541.2,324.4 539.6,319.4 538.0,317.0 536.4,317.2 534.8,314.3 533.2,309.4 531.6,303.9 530.0,301.6 528.4,302.0 526.8,294.8 525.2,297.1 523.6,295.8 522.0,295.0 520.4,294.2 518.8,289.2 517.2,287.6 515.6,288.6 514.0,285.5 512.4,282.9 510.8,279.3 509.2,280.0 507.6,279.6 506.1,277.9 504.5,273.6 502.9,272.9 501.3,270.9 499.7,268.5 498.1,271.7 496.5,266.2 494.9,264.8 493.3,261.6 491.7,255.6 490.1,257.1 488.5,254.7 486.9,251.3 485.3,252.0 483.7,248.9 482.1,248.4 480.5,246.4 478.9,244.6 477.3,241.4 475.7,243.7 474.1,245.9 472.5,245.2 470.9,243.0 469.3,241.4 467.7,240.4 466.1,239.9 464.5,240.0 462.9,235.5 461.3,234.7 459.7,232.3 458.1,233.0 456.5,231.7 454.9,229.8 453.3,226.7 451.7,225.9 450.1,226.9 448.5,227.3 446.9,228.8 445.4,229.4 443.8,226.2 442.2,222.1 440.6,219.5 439.0,218.6 437.4,221.0 435.8,219.4 434.2,220.2 432.6,223.7 431.0,225.1 429.4,223.8 427.8,225.8 426.2,227.0 424.6,225.0 423.0,224.8 421.4,226.2 419.8,226.9 418.2,222.7 416.6,221.3 415.0,221.2 413.4,222.4 411.8,219.6 410.2,221.9 408.6,220.5 407.0,222.7 405.4,224.4 403.8,224.6 402.2,226.1 400.6,223.6 399.0,224.4 397.4,223.5 395.8,222.9 394.2,223.7 392.6,228.7 391.0,230.5 389.4,231.3 387.8,234.6 386.3,230.5 384.7,229.5 383.1,230.4 381.5,225.9 379.9,230.3 378.3,232.7 376.7,234.1 375.1,235.0 373.5,234.6 371.9,234.7 370.3,236.9 368.7,235.9 367.1,237.1 365.5,235.8 363.9,238.2 362.3,234.6 360.7,234.2 359.1,230.2 357.5,231.5 355.9,230.2 354.3,232.9 352.7,230.5 351.1,233.3 349.5,236.9 347.9,235.0 346.3,239.5 344.7,238.5 343.1,235.7 341.5,234.5 339.9,237.9 338.3,242.9 336.7,241.5 335.1,240.7 333.5,240.9 331.9,234.4 330.3,236.8 328.7,234.8 327.2,234.2 325.6,234.7 324.0,234.2 322.4,234.4 320.8,236.2 319.2,235.7 317.6,231.5 316.0,232.3 314.4,229.5 312.8,227.2 311.2,228.0 309.6,225.6 308.0,225.5 306.4,222.1 304.8,222.1 303.2,222.1 301.6,223.8 300.0,224.9 298.4,224.8 296.8,224.6 295.2,226.8 293.6,227.6 292.0,223.2 290.4,222.7 288.8,223.0 287.2,226.4 285.6,226.7 284.0,227.6 282.4,230.8 280.8,230.8 279.2,229.1 277.6,225.5 276.0,230.7 274.4,229.3 272.8,232.3 271.2,229.4 269.6,228.1 268.1,225.5 266.5,225.7 264.9,227.1 263.3,226.2 261.7,223.5 260.1,225.9 258.5,227.2 256.9,227.8 255.3,227.1 253.7,232.9 252.1,233.8 250.5,234.9 248.9,233.4 247.3,233.6 245.7,235.1 244.1,233.3 242.5,232.9 240.9,235.5 239.3,235.8 237.7,238.4 236.1,239.8 234.5,241.3 232.9,238.3 231.3,243.3 229.7,244.0 228.1,244.9 226.5,249.1 224.9,249.8 223.3,252.8 221.7,252.8 220.1,255.0 218.5,255.1 216.9,257.0 215.3,260.2 213.7,259.2 212.1,261.2 210.5,268.8 208.9,268.5 207.4,264.8 205.8,274.1 204.2,276.7 202.6,283.7 201.0,292.7 199.4,287.5 197.8,285.9 196.2,283.5 194.6,288.0 193.0,289.0 191.4,291.4 189.8,291.2 188.2,293.1 186.6,291.1 185.0,294.3 183.4,298.6 181.8,302.6 180.2,305.1 178.6,304.8 177.0,304.5 175.4,305.4 173.8,303.6 172.2,302.5 170.6,300.3 169.0,294.4 167.4,292.1 165.8,288.1 164.2,280.3 162.6,276.9 161.0,267.4 159.4,264.0 157.8,266.2 156.2,265.7 154.6,260.1 153.0,258.9 151.4,258.6 149.8,259.1 148.3,257.5 146.7,261.2 145.1,257.4 143.5,253.1 141.9,249.3 140.3,252.0 138.7,250.7 137.1,251.5 135.5,250.4 133.9,250.1 132.3,244.0 130.7,243.4 129.1,247.4 127.5,248.9 125.9,252.2 124.3,251.0 122.7,253.0 121.1,256.3 119.5,257.7" fill="#5656ff"/>
<polygon points="119.5,135.0 121.1,139.3 122.7,141.2 124.3,140.6 125.9,139.7 127.5,138.6 129.1,137.2 130.7,137.2 132.3,137.1 133.9,138.0 135.5,138.2 137.1,138.0 138.7,137.3 140.3,136.0 141.9,135.0 143.5,133.2 145.1,133.0 146.7,131.5 148.3,130.9 149.8,129.5 151.4,128.5 153.0,127.6 154.6,125.7 156.2,123.8 157.8,123.2 159.4,122.9 161.0,121.9 162.6,120.8 164.2,119.0 165.8,118.5 167.4,117.9 169.0,117.5 170.6,117.7 172.2,117.4 173.8,116.8 175.4,117.0 177.0,117.0 178.6,118.2 180.2,119.4 181.8,117.2 183.4,115.6 185.0,112.7 186.6,110.2 188.2,108.5 189.8,108.3 191.4,108.2 193.0,107.8 194.6,106.5 196.2,107.3 197.8,106.5 199.4,103.9 201.0,102.5 202.6,101.0 204.2,99.8 205.8,99.2 207.4,98.6 208.9,96.6 210.5,99.3 212.1,98.5 213.7,98.1 215.3,96.7 216.9,96.7 218.5,97.0 220.1,96.0 221.7,96.5 223.3,95.8 224.9,96.5 226.5,95.6 228.1,96.2 229.7,94.2 231.3,95.5 232.9,95.1 234.5,94.4 236.1,94.8 237.7,94.8 239.3,95.2 240.9,95.6 242.5,95.9 244.1,96.4 245.7,96.5 247.3,96.9 248.9,96.9 250.5,96.9 252.1,97.1 253.7,97.3 255.3,97.2 256.9,97.7 258.5,97.7 260.1,97.8 261.7,97.8 263.3,97.7 264.9,97.5 266.5,97.7 268.1,97.6 269.6,97.9 271.2,97.7 272.8,97.7 274.4,97.4 276.0,97.3 277.6,96.9 279.2,96.8 280.8,97.0 282.4,96.8 284.0,96.6 285.6,96.4 287.2,96.6 288.8,96.2 290.4,96.2 292.0,95.9 293.6,95.9 295.2,95.4 296.8,95.0 298.4,95.3 300.0,94.9 301.6,94.8 303.2,94.8 304.8,94.6 306.4,94.3 308.0,93.8 309.6,93.7 311.2,93.6 312.8,93.6 314.4,93.4 316.0,93.2 317.6,92.8 319.2,92.7 320.8,92.7 322.4,92.2 324.0,92.0 325.6,92.1 327.2,92.1 328.7,91.8 330.3,91.5 331.9,91.1 333.5,91.1 335.1,90.8 336.7,91.1 338.3,91.3 339.9,91.4 341.5,91.7 343.1,91.4 344.7,91.3 346.3,91.7 347.9,91.6 349.5,91.1 351.1,91.1 352.7,90.8 354.3,90.8 355.9,90.8 357.5,90.8 359.1,90.3 360.7,90.1 362.3,90.2 363.9,90.0 365.5,90.3 367.1,89.9 368.7,89.8 370.3,89.4 371.9,90.0 373.5,90.3 375.1,90.2 376.7,90.2 378.3,90.1 379.9,90.3 381.5,90.7 383.1,91.5 384.7,91.6 386.3,91.6 387.8,91.9 389.4,92.2 391.0,92.5 392.6,92.6 394.2,92.9 395.8,93.5 397.4,93.9 399.0,94.0 400.6,93.8 402.2,92.9 403.8,92.6 405.4,93.3 407.0,93.8 408.6,94.1 410.2,94.9 411.8,95.4 413.4,95.6 415.0,96.2 416.6,96.8 418.2,97.3 419.8,98.1 421.4,98.5 423.0,99.1 424.6,99.9 426.2,99.8 427.8,99.9 429.4,99.8 431.0,100.1 432.6,99.9 434.2,100.3 435.8,100.4 437.4,100.0 439.0,100.0 440.6,100.7 442.2,101.6 443.8,102.5 445.4,103.5 446.9,104.3 448.5,104.9 450.1,105.0 451.7,105.6 453.3,106.3 454.9,106.9 456.5,108.1 458.1,109.3 459.7,110.3 461.3,111.3 462.9,113.0 464.5,113.9 466.1,115.1 467.7,115.6 469.3,116.7 470.9,118.5 472.5,119.5 474.1,117.0 475.7,111.8 477.3,111.2 478.9,111.0 480.5,111.7 482.1,112.4 483.7,112.2 485.3,112.4 486.9,113.0 488.5,112.5 490.1,113.2 491.7,113.8 493.3,114.0 494.9,114.1 496.5,113.8 498.1,114.6 499.7,115.3 501.3,116.7 502.9,116.0 504.5,117.5 506.1,117.4 507.6,119.4 509.2,119.8 510.8,120.9 512.4,122.3 514.0,123.8 515.6,123.1 517.2,124.2 518.8,123.9 520.4,125.6 522.0,126.6 523.6,128.4 525.2,129.1 526.8,129.6 528.4,129.3 530.0,130.1 531.6,130.1 533.2,131.2 534.8,130.9 536.4,133.1 538.0,135.4 539.6,137.2 541.2,136.1 542.8,135.0 544.4,134.5 546.0,134.8 547.6,133.7 549.2,133.7 550.8,132.1 552.4,132.5 554.0,133.6 555.6,132.0 557.2,132.8 558.8,132.8 560.4,132.5 562.0,132.8 563.6,132.6 565.2,131.8 566.7,132.2 568.3,130.8 569.9,132.1 571.5,131.2 573.1,131.2 574.7,129.7 576.3,130.7 577.9,130.3 579.5,129.3 581.1,128.4 582.7,127.7 584.3,126.3 585.9,125.7 587.5,125.0 589.1,125.4 590.7,126.6 592.3,126.9 593.9,126.6 595.5,126.9 597.1,126.7 598.7,126.6 600.3,126.3 601.9,126.7 603.5,127.2 605.1,128.5 606.7,129.1 608.3,130.0 609.9,130.7 611.5,130.5 613.1,129.8 614.7,129.3 616.3,129.1 617.9,129.6 619.5,128.6 621.1,127.9 622.7,129.1 624.3,130.7 625.8,131.5 627.4,131.6 629.0,130.2 630.6,131.1 632.2,132.2 633.8,132.7 635.4,133.0 637.0,131.2 638.6,131.3 640.2,129.9 641.8,130.1 643.4,129.9 645.0,130.4 646.6,129.8 648.2,128.0 649.8,128.2 651.4,128.2 653.0,128.6 654.6,127.0 656.2,126.6 657.8,127.0 659.4,128.4 661.0,128.2 662.6,128.6 664.2,129.1 665.8,129.1 667.4,131.1 669.0,130.6 670.6,133.4 672.2,133.3 673.8,133.7 675.4,134.2 677.0,134.5 678.6,135.2 680.2,135.8 681.8,136.2 683.4,137.4 684.9,139.2 686.5,140.6 688.1,142.8 689.7,144.0 691.3,146.2 692.9,147.0 694.5,147.4 696.1,149.0 697.7,150.1 699.3,150.2 700.9,148.6 702.5,147.3 704.1,146.7 705.7,150.0 707.3,152.9 708.9,151.2 710.5,153.6 712.1,156.9 713.7,154.0 715.3,152.8 716.9,150.9 718.5,151.1 720.1,150.1 721.7,148.0 723.3,148.0 724.9,145.0 726.5,143.1 728.1,144.0 729.7,145.0 731.3,145.0 732.9,144.7 734.5,145.4 736.1,143.8 737.7,143.9 739.3,145.8 740.9,144.6 742.5,143.3 744.1,142.1 745.6,140.8 747.2,141.8 748.8,142.2 750.4,142.0 752.0,141.8 753.6,141.0 755.2,140.7 756.8,141.9 758.4,143.2 760.0,142.0 761.6,141.6 763.2,142.3 764.8,143.9 766.4,146.0 768.0,147.5 769.6,147.8 771.2,149.3 772.8,150.0 774.4,149.4 776.0,149.5 777.6,147.9 779.2,144.4 780.8,142.9 782.4,141.9 784.0,140.0 785.6,138.4 787.2,136.9 788.8,134.3 790.4,137.2 792.0,138.0 793.6,137.4 795.2,136.0 796.8,137.2 798.4,137.2 800.0,138.3 801.6,139.8 803.2,141.3 804.7,143.0 806.3,142.4 807.9,141.0 809.5,140.3 811.1,142.7 812.7,143.4 814.3,143.4 815.9,145.4 817.5,146.7 819.1,148.1 820.7,149.7 822.3,148.7 823.9,149.9 825.5,150.8 827.1,150.4 828.7,152.9 830.3,153.2 831.9,152.9 833.5,152.8 833.5,268.5 831.9,271.3 830.3,275.1 828.7,278.1 827.1,278.2 825.5,279.5 823.9,276.3 822.3,273.4 820.7,269.2 819.1,267.0 817.5,267.7 815.9,267.0 814.3,263.5 812.7,262.5 811.1,262.8 809.5,260.7 807.9,261.1 806.3,258.8 804.7,258.1 803.2,262.2 801.6,261.1 800.0,259.8 798.4,258.3 796.8,251.7 795.2,254.1 793.6,254.1 792.0,255.8 790.4,258.7 788.8,259.9 787.2,263.1 785.6,268.1 784.0,270.1 782.4,272.3 780.8,271.9 779.2,268.3 777.6,268.2 776.0,270.3 774.4,269.7 772.8,270.4 771.2,270.6 769.6,271.2 768.0,274.2 766.4,273.0 764.8,272.3 763.2,271.2 761.6,273.7 760.0,273.5 758.4,270.9 756.8,267.3 755.2,265.7 753.6,262.6 752.0,259.5 750.4,260.7 748.8,258.8 747.2,255.3 745.6,255.5 744.1,261.2 742.5,262.5 740.9,264.1 739.3,262.0 737.7,262.9 736.1,265.5 734.5,266.5 732.9,269.1 731.3,267.8 729.7,265.1 728.1,264.1 726.5,262.1 724.9,262.2 723.3,263.5 721.7,263.6 720.1,263.4 718.5,264.6 716.9,264.3 715.3,264.1 713.7,264.4 712.1,262.6 710.5,259.5 708.9,258.0 707.3,260.8 705.7,263.1 704.1,264.1 702.5,268.8 700.9,266.9 699.3,263.4 697.7,259.8 696.1,255.4 694.5,257.1 692.9,254.2 691.3,253.4 689.7,249.0 688.1,247.8 686.5,244.7 684.9,246.4 683.4,248.8 681.8,250.4 680.2,249.6 678.6,251.8 677.0,254.5 675.4,259.2 673.8,256.0 672.2,250.3 670.6,251.6 669.0,254.9 667.4,253.0 665.8,250.0 664.2,252.4 662.6,255.7 661.0,249.0 659.4,244.4 657.8,242.1 656.2,240.8 654.6,240.9 653.0,242.5 651.4,240.7 649.8,241.6 648.2,243.9 646.6,245.7 645.0,246.5 643.4,249.6 641.8,249.1 640.2,245.7 638.6,244.3 637.0,245.8 635.4,243.3 633.8,241.8 632.2,243.5 630.6,245.6 629.0,245.1 627.4,249.5 625.8,248.4 624.3,248.3 622.7,249.1 621.1,250.8 619.5,248.4 617.9,246.8 616.3,243.4 614.7,244.6 613.1,245.9 611.5,246.2 609.9,244.6 608.3,244.8 606.7,244.9 605.1,242.6 603.5,242.1 601.9,243.8 600.3,244.3 598.7,245.2 597.1,245.7 595.5,245.0 593.9,246.6 592.3,248.3 590.7,247.8 589.1,248.3 587.5,251.8 585.9,254.4 584.3,258.3 582.7,255.8 581.1,253.3 579.5,252.3 577.9,252.8 576.3,254.9 574.7,256.6 573.1,257.4 571.5,255.5 569.9,254.0 568.3,254.0 566.7,250.4 565.2,250.4 563.6,253.1 562.0,253.6 560.4,255.5 558.8,254.3 557.2,258.1 555.6,257.6 554.0,255.1 552.4,253.8 550.8,254.8 549.2,253.5 547.6,250.3 546.0,247.3 544.4,248.5 542.8,253.3 541.2,253.8 539.6,251.7 538.0,250.4 536.4,247.3 534.8,247.5 533.2,245.3 531.6,243.4 530.0,240.8 528.4,240.4 526.8,238.0 525.2,232.8 523.6,231.5 522.0,231.3 520.4,229.7 518.8,225.6 517.2,222.9 515.6,221.7 514.0,222.4 512.4,220.9 510.8,218.7 509.2,218.3 507.6,217.3 506.1,214.5 504.5,212.6 502.9,212.5 501.3,211.0 499.7,210.5 498.1,210.2 496.5,210.4 494.9,208.6 493.3,207.4 491.7,205.6 490.1,205.7 488.5,206.7 486.9,205.7 485.3,202.3 483.7,200.6 482.1,197.4 480.5,196.8 478.9,198.7 477.3,196.5 475.7,196.8 474.1,195.0 472.5,193.1 470.9,191.8 469.3,191.5 467.7,190.7 466.1,189.4 464.5,189.6 462.9,188.2 461.3,188.9 459.7,186.5 458.1,188.0 456.5,188.8 454.9,190.0 453.3,186.8 451.7,187.8 450.1,185.1 448.5,184.0 446.9,182.3 445.4,183.8 443.8,181.9 442.2,182.4 440.6,180.1 439.0,179.9 437.4,179.5 435.8,178.9 434.2,178.1 432.6,179.2 431.0,181.1 429.4,181.4 427.8,182.2 426.2,184.0 424.6,183.2 423.0,184.2 421.4,184.1 419.8,184.8 418.2,184.4 416.6,183.0 415.0,180.8 413.4,183.1 411.8,180.1 410.2,178.2 408.6,177.5 407.0,181.3 405.4,182.2 403.8,183.1 402.2,183.3 400.6,180.3 399.0,181.2 397.4,179.3 395.8,181.0 394.2,179.9 392.6,183.5 391.0,183.7 389.4,186.5 387.8,189.4 386.3,185.9 384.7,181.3 383.1,179.2 381.5,177.4 379.9,180.0 378.3,180.4 376.7,184.0 375.1,183.8 373.5,180.1 371.9,179.6 370.3,181.0 368.7,182.9 367.1,184.0 365.5,182.8 363.9,180.8 362.3,179.4 360.7,178.7 359.1,175.2 357.5,174.9 355.9,176.1 354.3,175.7 352.7,176.5 351.1,176.0 349.5,176.2 347.9,177.6 346.3,176.6 344.7,176.1 343.1,177.4 341.5,175.5 339.9,176.3 338.3,176.0 336.7,176.8 335.1,176.6 333.5,177.8 331.9,177.8 330.3,180.1 328.7,178.3 327.2,178.6 325.6,180.4 324.0,179.8 322.4,179.9 320.8,181.6 319.2,180.5 317.6,181.9 316.0,182.8 314.4,182.4 312.8,182.5 311.2,182.7 309.6,183.8 308.0,185.6 306.4,184.5 304.8,183.3 303.2,180.1 301.6,180.1 300.0,179.8 298.4,180.9 296.8,183.1 295.2,180.9 293.6,183.8 292.0,184.9 290.4,184.6 288.8,185.2 287.2,188.4 285.6,188.9 284.0,189.4 282.4,187.6 280.8,188.0 279.2,184.5 277.6,183.0 276.0,180.3 274.4,181.5 272.8,178.9 271.2,178.3 269.6,177.5 268.1,178.2 266.5,177.6 264.9,174.7 263.3,171.5 261.7,172.5 260.1,172.8 258.5,172.5 256.9,171.8 255.3,171.0 253.7,171.1 252.1,173.3 250.5,173.5 248.9,172.1 247.3,169.7 245.7,170.6 244.1,169.8 242.5,170.1 240.9,171.0 239.3,171.1 237.7,173.3 236.1,170.9 234.5,173.3 232.9,174.7 231.3,175.7 229.7,175.6 228.1,178.0 226.5,178.3 224.9,179.2 223.3,181.2 221.7,177.5 220.1,176.4 218.5,178.7 216.9,180.2 215.3,180.8 213.7,183.7 212.1,186.2 210.5,186.9 208.9,190.6 207.4,191.7 205.8,190.2 204.2,193.7 202.6,197.7 201.0,199.2 199.4,201.5 197.8,203.6 196.2,204.9 194.6,209.0 193.0,209.7 191.4,210.3 189.8,207.0 188.2,205.6 186.6,208.4 185.0,213.1 183.4,216.3 181.8,219.8 180.2,220.9 178.6,225.0 177.0,229.7 175.4,227.1 173.8,223.6 172.2,224.0 170.6,222.3 169.0,218.8 167.4,217.5 165.8,216.0 164.2,212.9 162.6,208.3 161.0,206.2 159.4,202.7 157.8,201.1 156.2,199.5 154.6,197.3 153.0,199.0 151.4,199.5 149.8,200.9 148.3,202.8 146.7,205.2 145.1,204.7 143.5,205.4 141.9,206.9 140.3,206.9 138.7,206.1 137.1,204.5 135.5,203.4 133.9,201.3 132.3,200.8 130.7,199.4 129.1,200.9 127.5,202.3 125.9,202.8 124.3,204.6 122.7,204.0 121.1,207.7 119.5,209.1" fill="#2b2bff"/>
<polyline points="119.5,440.0 121.5,449.5 123.4,464.0 126.0,430.0 127.6,420.0 129.4,386.0 132.0,398.0 135.0,387.0 136.6,386.0 138.4,417.0 140.4,371.0 142.6,396.0 144.0,390.0 146.0,399.6 148.0,404.0 150.0,396.0 151.6,410.0 152.6,429.0 154.0,420.0 156.0,433.0 158.0,428.0 159.4,434.0 161.0,426.0 164.0,443.0 166.0,439.0 168.6,444.0 171.4,456.0 173.4,464.0 175.0,482.0 176.6,468.0 179.0,474.0 181.0,479.0 183.0,485.0 186.0,468.0 188.0,490.0 190.6,518.0 193.0,488.0 194.4,494.0 196.0,469.0 198.6,505.0 201.0,484.0 204.0,470.0 206.6,483.0 208.6,468.0 210.0,472.0 212.6,444.0 215.0,432.0 217.0,428.5 219.0,422.0 221.0,427.0 224.0,412.0 226.0,418.0 228.0,424.0 230.6,430.0 232.3,426.2 234.0,424.0 237.0,404.0 239.0,409.0 242.0,400.0 244.0,393.9 246.0,386.0 247.4,390.0 249.0,386.0 251.0,396.0 253.6,411.0 256.0,400.0 258.0,408.0 259.4,397.0 261.4,408.0 263.2,401.7 265.0,397.0 268.0,416.0 270.0,408.0 272.0,397.2 274.0,386.0 276.4,379.0 279.0,392.0 282.0,395.0 284.6,390.0 285.0,384.0 286.2,360.0 286.6,340.0 287.2,360.0 288.0,370.0 289.4,356.0 292.0,378.0 295.0,382.0 296.6,391.0 299.4,377.0 301.0,380.6 302.6,384.0 304.6,394.0 306.0,388.0 307.6,396.0 309.0,390.0 311.0,399.0 312.4,396.0 314.0,416.0 316.6,390.0 319.0,395.0 320.6,394.0 322.0,408.0 323.4,382.0 325.0,410.0 326.6,436.0 329.0,414.0 331.4,400.0 333.2,416.0 336.0,397.0 337.4,401.0 339.2,391.7 341.0,380.0 342.7,393.8 344.4,406.0 346.4,377.0 349.0,389.0 350.6,381.0 353.6,394.0 355.5,380.3 357.4,366.0 359.0,386.8 360.6,403.0 362.0,398.0 365.0,410.0 368.0,398.0 371.0,378.0 373.0,367.0 375.0,384.0 378.0,391.0 380.0,388.0 382.0,392.0 384.6,413.0 386.0,410.0 387.7,388.9 389.4,370.0 392.0,375.0 393.6,398.0 395.4,350.0 397.4,380.0 398.6,381.0 400.4,359.0 402.0,371.0 405.0,368.0 406.7,360.9 408.4,352.0 410.6,370.0 413.0,382.0 414.6,387.0 416.4,367.0 417.6,399.0 419.4,398.0 421.0,401.0 423.4,389.0 425.6,404.0 427.6,373.0 430.6,400.0 432.6,399.0 435.4,367.0 437.0,377.9 438.6,394.0 440.6,389.0 443.0,393.0 445.0,382.0 447.4,380.0 449.4,372.0 451.4,390.0 453.0,386.5 454.6,388.0 455.0,390.0 458.0,387.0 459.0,390.0 460.6,384.0 462.6,400.0 464.0,388.0 465.7,403.9 467.4,412.0 469.4,388.0 472.0,396.0 474.0,428.0 475.4,457.0 478.0,420.0 480.0,409.6 482.0,401.0 485.0,428.0 487.0,450.0 488.4,477.0 490.0,456.0 492.0,456.4 494.0,458.0 496.0,469.0 497.4,456.0 499.0,468.0 501.4,450.0 504.0,460.0 505.7,471.5 507.4,473.0 509.0,462.0 510.6,444.0 513.4,466.0 515.4,491.0 517.0,485.0 518.6,490.0 521.0,484.0 523.0,500.0 524.6,510.0 525.0,510.0 527.0,530.0 530.0,550.0 532.0,552.0 535.0,574.0 537.4,590.0 539.4,606.0 542.0,592.0 545.0,600.0 547.4,616.0 550.0,622.0 552.4,630.0 553.6,618.0 555.4,642.0 557.4,612.0 560.0,621.0 561.4,614.0 563.4,624.0 566.4,596.0 568.6,616.0 571.0,622.0 573.0,642.0 574.4,638.0 576.0,655.0 577.6,630.0 579.4,626.0 581.4,606.0 582.6,619.0 584.3,608.9 586.0,600.0 588.0,590.0 591.0,570.0 593.0,569.0 594.6,564.0 596.0,594.0 597.0,618.0 598.6,598.0 600.0,606.0 601.0,601.0 604.0,620.0 606.6,638.0 609.0,648.0 611.4,667.0 614.0,642.0 616.0,648.0 618.0,653.0 620.0,658.0 622.0,668.0 624.4,650.0 626.0,652.0 628.4,646.0 630.4,634.0 633.4,658.0 635.6,632.0 637.6,626.0 639.0,606.0 640.0,636.0 641.6,602.0 644.4,653.0 647.0,614.0 648.0,628.0 650.0,585.0 652.0,584.0 653.6,604.0 656.0,644.0 658.4,608.0 659.6,600.0 661.0,615.0 663.0,606.0 665.0,590.0 667.0,608.0 667.6,629.0 669.0,610.0 671.6,638.0 674.0,654.0 675.6,678.0 677.0,700.0 678.4,686.0 680.0,709.0 682.4,684.0 685.0,698.0 688.0,714.0 690.0,696.0 692.4,666.0 695.0,636.0 697.4,608.0 699.0,628.0 700.0,618.0 702.4,632.0 705.0,650.0 708.0,660.0 711.0,692.0 714.0,690.0 716.6,726.0 718.6,698.0 720.6,676.0 723.0,688.0 725.0,666.0 727.6,690.0 729.6,676.0 731.3,687.8 733.0,700.0 735.6,704.0 738.0,694.0 740.4,707.0 743.0,678.0 745.0,680.0 748.0,679.0 750.4,674.0 752.0,690.0 754.0,706.0 756.6,722.0 758.0,708.0 760.0,732.0 763.0,698.0 764.4,724.0 766.4,700.0 768.0,708.0 770.0,690.0 772.4,666.0 773.0,660.0 775.0,638.0 778.0,633.0 780.0,630.0 783.0,634.0 785.0,626.0 787.0,614.0 788.6,626.0 790.3,616.7 792.0,610.0 793.4,618.0 795.6,588.0 796.6,560.0 798.0,600.0 798.6,611.0 800.4,584.0 802.4,600.0 805.0,614.0 806.4,586.0 807.6,610.0 809.6,620.0 811.3,626.6 813.0,632.0 816.0,641.0 817.6,638.0 819.0,647.0 820.4,634.0 822.0,642.0 824.0,631.0 826.4,636.0 829.0,634.0 831.6,629.0 833.5,622.0" fill="none" stroke="#ccccff" stroke-width="0.8" stroke-dasharray="2.9 1.25"/>
<polyline points="119.5,295.0 122.0,304.0 125.0,299.0 126.8,286.2 128.6,277.0 130.3,280.0 132.0,285.0 133.7,287.3 135.3,291.7 137.0,294.0 139.0,296.0 141.0,285.0 143.0,295.0 146.0,303.0 149.0,308.0 150.6,311.0 152.6,325.0 154.0,305.0 157.0,321.0 159.0,337.0 160.0,345.0 161.4,337.0 164.0,343.0 167.0,355.0 169.0,351.0 172.0,363.0 175.0,380.0 177.0,369.0 179.0,377.0 182.0,367.0 185.0,361.0 187.0,363.0 190.0,355.0 193.0,357.0 196.0,349.0 198.0,345.0 200.0,352.8 202.0,354.0 205.0,351.0 207.0,337.0 210.0,351.0 213.0,319.0 215.0,315.0 217.0,306.0 219.0,303.0 222.0,293.0 225.0,287.0 227.0,286.3 229.0,284.0 231.0,286.0 233.0,281.9 235.0,277.0 236.7,274.4 238.3,274.6 240.0,272.0 242.0,266.6 244.0,260.0 246.0,264.2 248.0,266.0 250.0,267.7 252.0,271.0 254.0,266.5 256.0,264.0 259.0,260.0 261.0,261.1 263.0,262.0 266.0,268.0 268.0,265.0 271.0,273.0 274.0,276.0 275.7,274.8 277.3,274.7 279.0,273.0 280.7,271.1 282.3,268.5 284.0,268.0 285.0,263.0 287.0,259.8 289.0,257.0 290.7,262.5 292.3,265.6 294.0,267.0 296.0,270.0 297.7,266.0 299.3,263.1 301.0,260.0 302.8,267.7 304.6,273.0 307.0,264.0 308.7,269.3 310.3,268.9 312.0,273.0 314.0,276.2 316.0,280.0 317.4,272.0 319.7,283.7 322.0,290.0 325.0,268.0 327.4,281.0 328.6,273.0 330.6,287.0 332.8,284.0 335.0,284.0 338.0,293.0 339.7,281.2 341.4,273.0 344.0,279.0 347.0,274.0 350.0,277.0 352.0,273.0 354.0,279.0 356.0,272.0 358.0,275.3 360.0,275.0 362.0,274.0 364.0,282.0 365.8,282.8 367.5,281.5 369.2,283.0 371.0,282.0 374.0,277.0 377.0,279.0 379.0,276.4 381.0,272.0 382.7,271.7 384.3,275.1 386.0,276.0 389.0,273.0 391.0,273.5 393.0,277.0 395.0,272.9 397.0,268.0 400.0,265.0 402.0,272.0 405.0,263.0 407.0,262.4 409.0,263.6 411.0,265.0 412.7,265.3 414.3,262.2 416.0,262.0 419.0,272.0 421.0,273.8 423.0,273.2 425.0,273.0 428.0,267.0 431.0,269.0 434.0,264.0 435.7,263.4 437.3,266.6 439.0,265.0 441.0,267.1 443.0,270.0 444.7,271.3 446.3,271.3 448.0,274.0 450.0,272.9 452.0,275.0 454.6,272.4 455.0,274.0 457.0,279.0 459.0,281.0 461.0,278.6 463.0,276.0 465.0,279.9 467.0,282.8 469.0,283.0 470.9,286.7 472.7,290.5 474.6,292.0 477.0,280.0 478.7,283.8 480.3,284.9 482.0,289.0 484.0,296.8 486.0,301.0 488.0,310.0 491.0,301.0 493.0,303.7 495.0,305.0 497.0,308.6 499.0,313.0 500.6,319.0 503.0,313.0 505.0,319.5 507.0,323.0 509.0,324.0 511.0,315.0 514.0,327.0 517.0,343.0 519.0,353.0 521.0,361.0 524.0,360.0 526.6,351.0 528.3,361.6 530.0,369.0 532.0,370.0 535.0,379.0 537.0,374.0 539.0,375.8 541.0,380.0 543.0,384.0 545.0,385.4 547.0,388.0 549.0,384.0 552.0,396.0 555.0,411.0 558.0,403.0 561.0,410.0 563.0,402.0 565.0,408.5 567.0,412.0 569.0,419.0 571.0,413.0 573.0,421.6 575.0,428.0 577.0,442.0 578.0,434.0 581.0,450.0 584.0,455.0 586.0,446.0 589.0,428.0 592.0,411.0 593.4,418.0 595.0,412.0 597.0,424.0 598.6,411.0 601.4,396.0 604.0,410.0 604.6,404.0 607.0,430.0 608.6,445.0 610.3,438.8 612.0,430.0 615.0,409.0 617.4,430.0 620.0,450.0 621.0,446.0 622.6,457.0 624.8,437.0 625.0,425.0 628.0,424.0 629.7,427.9 631.3,426.7 633.0,431.0 635.0,422.0 637.0,440.0 638.6,421.0 640.0,460.0 643.0,440.0 646.0,418.0 648.0,431.0 650.6,398.0 652.3,403.3 654.0,406.0 656.0,423.0 658.6,402.0 661.0,426.0 664.0,428.0 665.6,419.0 667.0,431.0 668.6,406.0 671.0,424.0 673.0,440.0 675.0,472.0 676.6,444.0 678.6,472.0 681.0,444.0 682.0,430.0 685.0,440.0 687.0,446.0 688.0,468.0 691.0,448.0 694.0,459.0 696.0,420.0 698.0,418.0 700.4,412.0 703.0,420.0 706.0,428.0 708.0,420.0 710.0,432.0 712.0,444.0 714.0,430.0 717.0,438.0 719.0,428.0 722.0,416.0 724.0,420.0 727.0,428.0 729.0,424.0 731.0,440.0 733.0,462.0 735.0,452.0 736.6,483.0 738.6,466.0 740.6,509.0 743.0,460.0 744.4,440.0 746.0,444.0 748.6,436.0 750.6,460.0 752.8,472.3 755.0,490.0 757.0,500.0 758.6,492.0 761.6,530.0 763.3,518.6 765.0,506.0 766.4,522.0 769.0,490.0 771.0,476.5 773.0,460.0 774.6,475.0 776.3,462.2 778.0,450.0 779.0,446.0 780.6,460.0 781.0,456.0 784.0,440.0 785.0,446.0 787.4,420.0 789.6,420.0 792.0,404.0 795.0,386.0 797.0,404.0 799.0,420.0 801.0,436.0 802.4,456.0 803.0,460.0 805.0,480.0 807.0,488.0 808.0,494.0 810.0,486.0 812.0,490.0 815.0,506.0 817.0,512.0 818.7,516.5 820.3,518.2 822.0,520.0 825.0,530.0 827.6,541.0 830.0,538.0 831.8,534.0 833.5,530.0" fill="none" stroke="#b2b2ff" stroke-width="1.15" stroke-dasharray="4.2 1.8"/>
<polyline points="119.5,257.7 121.1,256.3 122.7,253.0 124.3,251.0 125.9,252.2 127.5,248.9 129.1,247.4 130.7,243.4 132.3,244.0 133.9,250.1 135.5,250.4 137.1,251.5 138.7,250.7 140.3,252.0 141.9,249.3 143.5,253.1 145.1,257.4 146.7,261.2 148.3,257.5 149.8,259.1 151.4,258.6 153.0,258.9 154.6,260.1 156.2,265.7 157.8,266.2 159.4,264.0 161.0,267.4 162.6,276.9 164.2,280.3 165.8,288.1 167.4,292.1 169.0,294.4 170.6,300.3 172.2,302.5 173.8,303.6 175.4,305.4 177.0,304.5 178.6,304.8 180.2,305.1 181.8,302.6 183.4,298.6 185.0,294.3 186.6,291.1 188.2,293.1 189.8,291.2 191.4,291.4 193.0,289.0 194.6,288.0 196.2,283.5 197.8,285.9 199.4,287.5 201.0,292.7 202.6,283.7 204.2,276.7 205.8,274.1 207.4,264.8 208.9,268.5 210.5,268.8 212.1,261.2 213.7,259.2 215.3,260.2 216.9,257.0 218.5,255.1 220.1,255.0 221.7,252.8 223.3,252.8 224.9,249.8 226.5,249.1 228.1,244.9 229.7,244.0 231.3,243.3 232.9,238.3 234.5,241.3 236.1,239.8 237.7,238.4 239.3,235.8 240.9,235.5 242.5,232.9 244.1,233.3 245.7,235.1 247.3,233.6 248.9,233.4 250.5,234.9 252.1,233.8 253.7,232.9 255.3,227.1 256.9,227.8 258.5,227.2 260.1,225.9 261.7,223.5 263.3,226.2 264.9,227.1 266.5,225.7 268.1,225.5 269.6,228.1 271.2,229.4 272.8,232.3 274.4,229.3 276.0,230.7 277.6,225.5 279.2,229.1 280.8,230.8 282.4,230.8 284.0,227.6 285.6,226.7 287.2,226.4 288.8,223.0 290.4,222.7 292.0,223.2 293.6,227.6 295.2,226.8 296.8,224.6 298.4,224.8 300.0,224.9 301.6,223.8 303.2,222.1 304.8,222.1 306.4,222.1 308.0,225.5 309.6,225.6 311.2,228.0 312.8,227.2 314.4,229.5 316.0,232.3 317.6,231.5 319.2,235.7 320.8,236.2 322.4,234.4 324.0,234.2 325.6,234.7 327.2,234.2 328.7,234.8 330.3,236.8 331.9,234.4 333.5,240.9 335.1,240.7 336.7,241.5 338.3,242.9 339.9,237.9 341.5,234.5 343.1,235.7 344.7,238.5 346.3,239.5 347.9,235.0 349.5,236.9 351.1,233.3 352.7,230.5 354.3,232.9 355.9,230.2 357.5,231.5 359.1,230.2 360.7,234.2 362.3,234.6 363.9,238.2 365.5,235.8 367.1,237.1 368.7,235.9 370.3,236.9 371.9,234.7 373.5,234.6 375.1,235.0 376.7,234.1 378.3,232.7 379.9,230.3 381.5,225.9 383.1,230.4 384.7,229.5 386.3,230.5 387.8,234.6 389.4,231.3 391.0,230.5 392.6,228.7 394.2,223.7 395.8,222.9 397.4,223.5 399.0,224.4 400.6,223.6 402.2,226.1 403.8,224.6 405.4,224.4 407.0,222.7 408.6,220.5 410.2,221.9 411.8,219.6 413.4,222.4 415.0,221.2 416.6,221.3 418.2,222.7 419.8,226.9 421.4,226.2 423.0,224.8 424.6,225.0 426.2,227.0 427.8,225.8 429.4,223.8 431.0,225.1 432.6,223.7 434.2,220.2 435.8,219.4 437.4,221.0 439.0,218.6 440.6,219.5 442.2,222.1 443.8,226.2 445.4,229.4 446.9,228.8 448.5,227.3 450.1,226.9 451.7,225.9 453.3,226.7 454.9,229.8 456.5,231.7 458.1,233.0 459.7,232.3 461.3,234.7 462.9,235.5 464.5,240.0 466.1,239.9 467.7,240.4 469.3,241.4 470.9,243.0 472.5,245.2 474.1,245.9 475.7,243.7 477.3,241.4 478.9,244.6 480.5,246.4 482.1,248.4 483.7,248.9 485.3,252.0 486.9,251.3 488.5,254.7 490.1,257.1 491.7,255.6 493.3,261.6 494.9,264.8 496.5,266.2 498.1,271.7 499.7,268.5 501.3,270.9 502.9,272.9 504.5,273.6 506.1,277.9 507.6,279.6 509.2,280.0 510.8,279.3 512.4,282.9 514.0,285.5 515.6,288.6 517.2,287.6 518.8,289.2 520.4,294.2 522.0,295.0 523.6,295.8 525.2,297.1 526.8,294.8 528.4,302.0 530.0,301.6 531.6,303.9 533.2,309.4 534.8,314.3 536.4,317.2 538.0,317.0 539.6,319.4 541.2,324.4 542.8,324.0 544.4,320.4 546.0,324.4 547.6,321.1 549.2,324.0 550.8,325.3 552.4,327.3 554.0,327.8 555.6,330.3 557.2,331.8 558.8,329.9 560.4,327.7 562.0,328.9 563.6,324.2 565.2,328.8 566.7,329.6 568.3,328.5 569.9,327.5 571.5,328.3 573.1,325.5 574.7,332.7 576.3,337.7 577.9,335.3 579.5,331.9 581.1,330.3 582.7,337.8 584.3,341.2 585.9,340.8 587.5,336.9 589.1,329.5 590.7,330.9 592.3,330.4 593.9,331.2 595.5,331.2 597.1,334.9 598.7,338.8 600.3,338.6 601.9,336.1 603.5,338.4 605.1,339.2 606.7,342.1 608.3,344.8 609.9,345.8 611.5,342.8 613.1,339.1 614.7,343.1 616.3,344.3 617.9,346.1 619.5,347.8 621.1,347.2 622.7,347.2 624.3,346.8 625.8,342.9 627.4,342.3 629.0,343.7 630.6,347.2 632.2,347.5 633.8,345.9 635.4,345.0 637.0,340.5 638.6,340.5 640.2,344.3 641.8,349.4 643.4,350.9 645.0,349.0 646.6,344.9 648.2,340.8 649.8,338.3 651.4,339.3 653.0,340.2 654.6,341.7 656.2,344.1 657.8,340.8 659.4,342.7 661.0,344.6 662.6,350.4 664.2,348.5 665.8,343.3 667.4,341.9 669.0,345.7 670.6,346.8 672.2,351.1 673.8,354.5 675.4,357.8 677.0,359.5 678.6,355.6 680.2,353.2 681.8,350.1 683.4,350.2 684.9,345.0 686.5,351.1 688.1,352.2 689.7,357.1 691.3,357.3 692.9,352.1 694.5,354.1 696.1,354.3 697.7,352.3 699.3,354.6 700.9,351.9 702.5,356.5 704.1,358.8 705.7,361.0 707.3,355.3 708.9,353.6 710.5,350.2 712.1,346.2 713.7,347.4 715.3,348.5 716.9,349.3 718.5,350.5 720.1,348.7 721.7,351.2 723.3,351.3 724.9,345.0 726.5,345.3 728.1,346.9 729.7,348.2 731.3,348.6 732.9,348.0 734.5,346.1 736.1,349.9 737.7,354.1 739.3,348.0 740.9,344.0 742.5,341.2 744.1,341.1 745.6,343.3 747.2,346.1 748.8,347.2 750.4,350.3 752.0,352.1 753.6,361.4 755.2,365.8 756.8,370.0 758.4,380.1 760.0,386.1 761.6,380.5 763.2,376.5 764.8,373.3 766.4,368.9 768.0,375.7 769.6,372.1 771.2,370.2 772.8,366.6 774.4,375.0 776.0,372.2 777.6,369.1 779.2,362.8 780.8,358.0 782.4,354.8 784.0,360.4 785.6,361.8 787.2,357.8 788.8,358.1 790.4,358.4 792.0,351.5 793.6,350.7 795.2,350.4 796.8,353.0 798.4,360.5 800.0,364.2 801.6,363.5 803.2,364.7 804.7,363.1 806.3,372.4 807.9,379.7 809.5,368.7 811.1,364.2 812.7,361.7 814.3,374.8 815.9,383.8 817.5,395.1 819.1,395.0 820.7,397.1 822.3,402.8 823.9,413.2 825.5,420.2 827.1,428.7 828.7,430.7 830.3,430.3 831.9,422.2 833.5,416.1" fill="none" stroke="#8c8cff" stroke-width="1.5" stroke-dasharray="5.5 2.4"/>
<polyline points="119.5,209.1 121.1,207.7 122.7,204.0 124.3,204.6 125.9,202.8 127.5,202.3 129.1,200.9 130.7,199.4 132.3,200.8 133.9,201.3 135.5,203.4 137.1,204.5 138.7,206.1 140.3,206.9 141.9,206.9 143.5,205.4 145.1,204.7 146.7,205.2 148.3,202.8 149.8,200.9 151.4,199.5 153.0,199.0 154.6,197.3 156.2,199.5 157.8,201.1 159.4,202.7 161.0,206.2 162.6,208.3 164.2,212.9 165.8,216.0 167.4,217.5 169.0,218.8 170.6,222.3 172.2,224.0 173.8,223.6 175.4,227.1 177.0,229.7 178.6,225.0 180.2,220.9 181.8,219.8 183.4,216.3 185.0,213.1 186.6,208.4 188.2,205.6 189.8,207.0 191.4,210.3 193.0,209.7 194.6,209.0 196.2,204.9 197.8,203.6 199.4,201.5 201.0,199.2 202.6,197.7 204.2,193.7 205.8,190.2 207.4,191.7 208.9,190.6 210.5,186.9 212.1,186.2 213.7,183.7 215.3,180.8 216.9,180.2 218.5,178.7 220.1,176.4 221.7,177.5 223.3,181.2 224.9,179.2 226.5,178.3 228.1,178.0 229.7,175.6 231.3,175.7 232.9,174.7 234.5,173.3 236.1,170.9 237.7,173.3 239.3,171.1 240.9,171.0 242.5,170.1 244.1,169.8 245.7,170.6 247.3,169.7 248.9,172.1 250.5,173.5 252.1,173.3 253.7,171.1 255.3,171.0 256.9,171.8 258.5,172.5 260.1,172.8 261.7,172.5 263.3,171.5 264.9,174.7 266.5,177.6 268.1,178.2 269.6,177.5 271.2,178.3 272.8,178.9 274.4,181.5 276.0,180.3 277.6,183.0 279.2,184.5 280.8,188.0 282.4,187.6 284.0,189.4 285.6,188.9 287.2,188.4 288.8,185.2 290.4,184.6 292.0,184.9 293.6,183.8 295.2,180.9 296.8,183.1 298.4,180.9 300.0,179.8 301.6,180.1 303.2,180.1 304.8,183.3 306.4,184.5 308.0,185.6 309.6,183.8 311.2,182.7 312.8,182.5 314.4,182.4 316.0,182.8 317.6,181.9 319.2,180.5 320.8,181.6 322.4,179.9 324.0,179.8 325.6,180.4 327.2,178.6 328.7,178.3 330.3,180.1 331.9,177.8 333.5,177.8 335.1,176.6 336.7,176.8 338.3,176.0 339.9,176.3 341.5,175.5 343.1,177.4 344.7,176.1 346.3,176.6 347.9,177.6 349.5,176.2 351.1,176.0 352.7,176.5 354.3,175.7 355.9,176.1 357.5,174.9 359.1,175.2 360.7,178.7 362.3,179.4 363.9,180.8 365.5,182.8 367.1,184.0 368.7,182.9 370.3,181.0 371.9,179.6 373.5,180.1 375.1,183.8 376.7,184.0 378.3,180.4 379.9,180.0 381.5,177.4 383.1,179.2 384.7,181.3 386.3,185.9 387.8,189.4 389.4,186.5 391.0,183.7 392.6,183.5 394.2,179.9 395.8,181.0 397.4,179.3 399.0,181.2 400.6,180.3 402.2,183.3 403.8,183.1 405.4,182.2 407.0,181.3 408.6,177.5 410.2,178.2 411.8,180.1 413.4,183.1 415.0,180.8 416.6,183.0 418.2,184.4 419.8,184.8 421.4,184.1 423.0,184.2 424.6,183.2 426.2,184.0 427.8,182.2 429.4,181.4 431.0,181.1 432.6,179.2 434.2,178.1 435.8,178.9 437.4,179.5 439.0,179.9 440.6,180.1 442.2,182.4 443.8,181.9 445.4,183.8 446.9,182.3 448.5,184.0 450.1,185.1 451.7,187.8 453.3,186.8 454.9,190.0 456.5,188.8 458.1,188.0 459.7,186.5 461.3,188.9 462.9,188.2 464.5,189.6 466.1,189.4 467.7,190.7 469.3,191.5 470.9,191.8 472.5,193.1 474.1,195.0 475.7,196.8 477.3,196.5 478.9,198.7 480.5,196.8 482.1,197.4 483.7,200.6 485.3,202.3 486.9,205.7 488.5,206.7 490.1,205.7 491.7,205.6 493.3,207.4 494.9,208.6 496.5,210.4 498.1,210.2 499.7,210.5 501.3,211.0 502.9,212.5 504.5,212.6 506.1,214.5 507.6,217.3 509.2,218.3 510.8,218.7 512.4,220.9 514.0,222.4 515.6,221.7 517.2,222.9 518.8,225.6 520.4,229.7 522.0,231.3 523.6,231.5 525.2,232.8 526.8,238.0 528.4,240.4 530.0,240.8 531.6,243.4 533.2,245.3 534.8,247.5 536.4,247.3 538.0,250.4 539.6,251.7 541.2,253.8 542.8,253.3 544.4,248.5 546.0,247.3 547.6,250.3 549.2,253.5 550.8,254.8 552.4,253.8 554.0,255.1 555.6,257.6 557.2,258.1 558.8,254.3 560.4,255.5 562.0,253.6 563.6,253.1 565.2,250.4 566.7,250.4 568.3,254.0 569.9,254.0 571.5,255.5 573.1,257.4 574.7,256.6 576.3,254.9 577.9,252.8 579.5,252.3 581.1,253.3 582.7,255.8 584.3,258.3 585.9,254.4 587.5,251.8 589.1,248.3 590.7,247.8 592.3,248.3 593.9,246.6 595.5,245.0 597.1,245.7 598.7,245.2 600.3,244.3 601.9,243.8 603.5,242.1 605.1,242.6 606.7,244.9 608.3,244.8 609.9,244.6 611.5,246.2 613.1,245.9 614.7,244.6 616.3,243.4 617.9,246.8 619.5,248.4 621.1,250.8 622.7,249.1 624.3,248.3 625.8,248.4 627.4,249.5 629.0,245.1 630.6,245.6 632.2,243.5 633.8,241.8 635.4,243.3 637.0,245.8 638.6,244.3 640.2,245.7 641.8,249.1 643.4,249.6 645.0,246.5 646.6,245.7 648.2,243.9 649.8,241.6 651.4,240.7 653.0,242.5 654.6,240.9 656.2,240.8 657.8,242.1 659.4,244.4 661.0,249.0 662.6,255.7 664.2,252.4 665.8,250.0 667.4,253.0 669.0,254.9 670.6,251.6 672.2,250.3 673.8,256.0 675.4,259.2 677.0,254.5 678.6,251.8 680.2,249.6 681.8,250.4 683.4,248.8 684.9,246.4 686.5,244.7 688.1,247.8 689.7,249.0 691.3,253.4 692.9,254.2 694.5,257.1 696.1,255.4 697.7,259.8 699.3,263.4 700.9,266.9 702.5,268.8 704.1,264.1 705.7,263.1 707.3,260.8 708.9,258.0 710.5,259.5 712.1,262.6 713.7,264.4 715.3,264.1 716.9,264.3 718.5,264.6 720.1,263.4 721.7,263.6 723.3,263.5 724.9,262.2 726.5,262.1 728.1,264.1 729.7,265.1 731.3,267.8 732.9,269.1 734.5,266.5 736.1,265.5 737.7,262.9 739.3,262.0 740.9,264.1 742.5,262.5 744.1,261.2 745.6,255.5 747.2,255.3 748.8,258.8 750.4,260.7 752.0,259.5 753.6,262.6 755.2,265.7 756.8,267.3 758.4,270.9 760.0,273.5 761.6,273.7 763.2,271.2 764.8,272.3 766.4,273.0 768.0,274.2 769.6,271.2 771.2,270.6 772.8,270.4 774.4,269.7 776.0,270.3 777.6,268.2 779.2,268.3 780.8,271.9 782.4,272.3 784.0,270.1 785.6,268.1 787.2,263.1 788.8,259.9 790.4,258.7 792.0,255.8 793.6,254.1 795.2,254.1 796.8,251.7 798.4,258.3 800.0,259.8 801.6,261.1 803.2,262.2 804.7,258.1 806.3,258.8 807.9,261.1 809.5,260.7 811.1,262.8 812.7,262.5 814.3,263.5 815.9,267.0 817.5,267.7 819.1,267.0 820.7,269.2 822.3,273.4 823.9,276.3 825.5,279.5 827.1,278.2 828.7,278.1 830.3,275.1 831.9,271.3 833.5,268.5" fill="none" stroke="#6666ff" stroke-width="2.0" stroke-dasharray="7.4 3.2"/>
<polyline points="119.5,85.6 121.1,85.6 122.7,84.6 124.3,83.6 125.9,82.4 127.5,82.3 129.1,83.0 130.7,83.2 132.3,82.5 133.9,80.5 135.5,80.7 137.1,80.4 138.7,80.5 140.3,80.1 141.9,80.1 143.5,80.1 145.1,79.8 146.7,79.7 148.3,79.6 149.8,80.9 151.4,83.8 153.0,85.3 154.6,85.7 156.2,85.7 157.8,85.5 159.4,84.3 161.0,85.9 162.6,84.3 164.2,84.4 165.8,84.4 167.4,82.5 169.0,81.8 170.6,82.2 172.2,83.2 173.8,82.6 175.4,83.5 177.0,84.7 178.6,85.6 180.2,85.9 181.8,85.5 183.4,85.0 185.0,84.0 186.6,83.9 188.2,83.9 189.8,83.8 191.4,84.1 193.0,84.0 194.6,84.6 196.2,83.9 197.8,83.8 199.4,83.8 201.0,83.3 202.6,84.4 204.2,76.7 205.8,72.1 207.4,72.2 208.9,72.8 210.5,71.9 212.1,73.1 213.7,78.7 215.3,83.5 216.9,83.3 218.5,83.6 220.1,83.1 221.7,83.3 223.3,83.4 224.9,83.9 226.5,82.7 228.1,83.5 229.7,83.5 231.3,83.1 232.9,83.1 234.5,82.9 236.1,83.0 237.7,82.9 239.3,82.7 240.9,82.6 242.5,82.5 244.1,82.3 245.7,82.2 247.3,82.3 248.9,81.9 250.5,81.6 252.1,81.7 253.7,81.6 255.3,81.6 256.9,81.5 258.5,81.5 260.1,81.5 261.7,81.6 263.3,81.4 264.9,81.4 266.5,81.5 268.1,81.4 269.6,81.2 271.2,81.5 272.8,81.4 274.4,81.2 276.0,81.1 277.6,81.1 279.2,81.0 280.8,81.0 282.4,80.9 284.0,80.9 285.6,81.0 287.2,80.9 288.8,80.7 290.4,80.8 292.0,80.7 293.6,80.7 295.2,80.7 296.8,80.5 298.4,80.4 300.0,80.3 301.6,80.1 303.2,80.2 304.8,80.2 306.4,80.1 308.0,79.9 309.6,79.8 311.2,79.7 312.8,79.6 314.4,79.6 316.0,79.5 317.6,79.6 319.2,79.5 320.8,79.7 322.4,79.7 324.0,79.6 325.6,79.5 327.2,79.7 328.7,79.9 330.3,79.8 331.9,79.8 333.5,79.8 335.1,79.9 336.7,79.8 338.3,80.0 339.9,79.9 341.5,80.0 343.1,80.0 344.7,80.0 346.3,79.9 347.9,80.0 349.5,80.0 351.1,80.2 352.7,80.2 354.3,80.1 355.9,80.2 357.5,80.3 359.1,80.3 360.7,80.3 362.3,80.3 363.9,80.4 365.5,80.5 367.1,80.4 368.7,80.5 370.3,80.5 371.9,80.5 373.5,80.7 375.1,80.7 376.7,80.6 378.3,80.7 379.9,80.7 381.5,80.7 383.1,80.7 384.7,80.8 386.3,80.7 387.8,80.8 389.4,81.0 391.0,81.0 392.6,80.9 394.2,81.0 395.8,81.0 397.4,81.1 399.0,81.3 400.6,81.3 402.2,81.3 403.8,81.3 405.4,81.5 407.0,81.5 408.6,81.7 410.2,81.8 411.8,81.8 413.4,82.1 415.0,82.0 416.6,82.2 418.2,82.0 419.8,81.9 421.4,82.2 423.0,82.4 424.6,82.4 426.2,82.4 427.8,82.3 429.4,82.5 431.0,82.5 432.6,82.6 434.2,82.8 435.8,82.9 437.4,82.9 439.0,82.9 440.6,83.0 442.2,83.1 443.8,83.1 445.4,83.3 446.9,83.2 448.5,83.5 450.1,83.4 451.7,83.6 453.3,83.5 454.9,83.7 456.5,83.6 458.1,83.6 459.7,83.5 461.3,83.4 462.9,83.3 464.5,83.1 466.1,83.3 467.7,83.2 469.3,83.1 470.9,83.1 472.5,83.7 474.1,82.7 475.7,82.9 477.3,82.7 478.9,82.8 480.5,82.1 482.1,82.2 483.7,82.6 485.3,82.8 486.9,82.8 488.5,82.0 490.1,81.9 491.7,81.8 493.3,81.3 494.9,81.1 496.5,81.7 498.1,81.7 499.7,81.6 501.3,82.0 502.9,81.4 504.5,81.7 506.1,81.6 507.6,81.6 509.2,81.7 510.8,81.7 512.4,81.7 514.0,81.7 515.6,82.3 517.2,81.8 518.8,82.1 520.4,82.2 522.0,82.0 523.6,82.3 525.2,82.0 526.8,82.6 528.4,82.2 530.0,82.4 531.6,82.9 533.2,83.3 534.8,83.7 536.4,84.0 538.0,83.9 539.6,83.8 541.2,84.2 542.8,84.3 544.4,84.0 546.0,84.5 547.6,84.5 549.2,84.1 550.8,84.5 552.4,84.1 554.0,84.2 555.6,84.6 557.2,84.2 558.8,84.6 560.4,84.4 562.0,85.0 563.6,84.8 565.2,85.0 566.7,84.6 568.3,84.9 569.9,85.4 571.5,85.4 573.1,84.8 574.7,85.5 576.3,85.7 577.9,85.4 579.5,85.9 581.1,85.3 582.7,85.5 584.3,86.0 585.9,86.2 587.5,86.3 589.1,85.6 590.7,85.3 592.3,85.9 593.9,85.5 595.5,85.8 597.1,85.5 598.7,86.1 600.3,86.2 601.9,86.1 603.5,85.9 605.1,85.8 606.7,85.7 608.3,85.8 609.9,85.8 611.5,85.8 613.1,85.6 614.7,86.2 616.3,85.8 617.9,86.0 619.5,86.1 621.1,85.4 622.7,84.9 624.3,85.6 625.8,85.4 627.4,85.5 629.0,85.4 630.6,85.6 632.2,85.3 633.8,85.5 635.4,85.5 637.0,85.7 638.6,85.1 640.2,85.9 641.8,86.0 643.4,85.5 645.0,85.6 646.6,86.0 648.2,86.4 649.8,86.4 651.4,86.9 653.0,86.8 654.6,86.5 656.2,86.6 657.8,87.2 659.4,87.0 661.0,87.5 662.6,87.8 664.2,87.8 665.8,88.0 667.4,87.7 669.0,87.7 670.6,87.6 672.2,87.6 673.8,87.4 675.4,87.6 677.0,87.6 678.6,87.5 680.2,88.0 681.8,88.3 683.4,88.1 684.9,88.7 686.5,88.7 688.1,88.8 689.7,88.4 691.3,88.0 692.9,88.6 694.5,88.7 696.1,88.8 697.7,88.7 699.3,89.0 700.9,88.5 702.5,88.7 704.1,88.2 705.7,87.6 707.3,88.0 708.9,88.7 710.5,87.9 712.1,88.4 713.7,88.1 715.3,88.0 716.9,88.1 718.5,88.2 720.1,87.8 721.7,88.0 723.3,88.2 724.9,88.3 726.5,87.8 728.1,88.3 729.7,88.5 731.3,88.7 732.9,87.6 734.5,87.7 736.1,87.1 737.7,87.5 739.3,87.7 740.9,87.2 742.5,86.9 744.1,87.3 745.6,87.5 747.2,87.1 748.8,87.1 750.4,86.4 752.0,86.6 753.6,87.0 755.2,87.0 756.8,87.5 758.4,86.8 760.0,86.3 761.6,86.9 763.2,86.8 764.8,87.0 766.4,87.2 768.0,87.2 769.6,87.7 771.2,88.4 772.8,88.1 774.4,88.9 776.0,90.2 777.6,89.9 779.2,89.8 780.8,89.1 782.4,89.6 784.0,90.9 785.6,91.4 787.2,90.7 788.8,90.7 790.4,89.8 792.0,89.6 793.6,89.8 795.2,89.5 796.8,89.7 798.4,90.5 800.0,91.1 801.6,91.1 803.2,90.8 804.7,90.1 806.3,89.6 807.9,89.3 809.5,89.0 811.1,89.8 812.7,90.4 814.3,90.9 815.9,91.1 817.5,91.3 819.1,92.0 820.7,91.6 822.3,91.0 823.9,89.6 825.5,89.5 827.1,90.7 828.7,90.7 830.3,91.1 831.9,92.1 833.5,93.4" fill="none" stroke="#00008b" stroke-width="0.7" stroke-dasharray="3.0 1.15"/>
<polyline points="119.5,99.9 121.1,99.5 122.7,99.4 124.3,99.6 125.9,97.3 127.5,96.7 129.1,95.2 130.7,91.2 132.3,90.9 133.9,90.7 135.5,91.5 137.1,94.3 138.7,98.1 140.3,92.3 141.9,88.2 143.5,88.8 145.1,89.9 146.7,90.7 148.3,91.5 149.8,93.3 151.4,93.2 153.0,91.9 154.6,90.9 156.2,90.8 157.8,91.0 159.4,91.4 161.0,91.8 162.6,91.6 164.2,90.4 165.8,88.8 167.4,88.4 169.0,88.5 170.6,89.2 172.2,90.0 173.8,90.2 175.4,90.3 177.0,90.3 178.6,90.7 180.2,89.2 181.8,87.6 183.4,87.5 185.0,87.8 186.6,86.9 188.2,87.0 189.8,86.6 191.4,87.4 193.0,87.1 194.6,86.9 196.2,86.8 197.8,86.6 199.4,86.5 201.0,85.8 202.6,86.2 204.2,86.3 205.8,85.6 207.4,86.1 208.9,86.2 210.5,85.4 212.1,85.4 213.7,85.5 215.3,85.3 216.9,85.6 218.5,85.1 220.1,85.2 221.7,85.4 223.3,85.6 224.9,85.4 226.5,85.2 228.1,85.4 229.7,84.5 231.3,85.2 232.9,85.0 234.5,84.6 236.1,84.8 237.7,84.7 239.3,84.6 240.9,84.8 242.5,84.7 244.1,84.9 245.7,84.7 247.3,84.6 248.9,84.6 250.5,84.8 252.1,84.7 253.7,84.6 255.3,84.5 256.9,84.4 258.5,84.5 260.1,84.5 261.7,84.6 263.3,84.6 264.9,84.5 266.5,84.3 268.1,84.2 269.6,84.0 271.2,84.1 272.8,84.2 274.4,84.2 276.0,84.2 277.6,84.0 279.2,84.2 280.8,84.1 282.4,84.1 284.0,84.1 285.6,83.8 287.2,83.8 288.8,83.7 290.4,84.0 292.0,83.8 293.6,83.7 295.2,83.7 296.8,83.5 298.4,83.7 300.0,83.5 301.6,83.4 303.2,83.3 304.8,83.4 306.4,83.1 308.0,83.2 309.6,83.1 311.2,83.1 312.8,82.9 314.4,83.0 316.0,83.0 317.6,83.1 319.2,83.1 320.8,83.1 322.4,83.1 324.0,83.0 325.6,82.9 327.2,82.8 328.7,83.0 330.3,83.0 331.9,83.1 333.5,83.0 335.1,82.9 336.7,83.1 338.3,83.2 339.9,83.0 341.5,82.9 343.1,82.9 344.7,83.1 346.3,83.0 347.9,83.0 349.5,83.1 351.1,83.1 352.7,83.2 354.3,83.1 355.9,83.1 357.5,83.2 359.1,83.3 360.7,83.4 362.3,83.3 363.9,83.4 365.5,83.5 367.1,83.5 368.7,83.5 370.3,83.6 371.9,83.6 373.5,83.6 375.1,83.5 376.7,83.7 378.3,83.7 379.9,83.7 381.5,83.7 383.1,83.8 384.7,84.1 386.3,84.0 387.8,84.0 389.4,84.0 391.0,84.0 392.6,84.1 394.2,84.0 395.8,84.1 397.4,84.2 399.0,84.3 400.6,84.3 402.2,84.2 403.8,84.4 405.4,84.3 407.0,84.6 408.6,84.7 410.2,84.8 411.8,85.0 413.4,85.2 415.0,85.1 416.6,85.3 418.2,85.5 419.8,85.5 421.4,85.4 423.0,85.7 424.6,85.9 426.2,86.1 427.8,86.2 429.4,86.3 431.0,86.3 432.6,86.6 434.2,86.6 435.8,86.7 437.4,86.6 439.0,86.9 440.6,86.8 442.2,87.0 443.8,86.8 445.4,87.1 446.9,87.2 448.5,87.2 450.1,87.5 451.7,87.5 453.3,87.5 454.9,87.5 456.5,88.1 458.1,88.4 459.7,88.7 461.3,88.8 462.9,89.3 464.5,89.6 466.1,89.5 467.7,89.4 469.3,89.2 470.9,89.4 472.5,88.8 474.1,89.2 475.7,88.9 477.3,88.6 478.9,88.8 480.5,88.8 482.1,88.2 483.7,88.3 485.3,88.6 486.9,88.3 488.5,87.8 490.1,88.0 491.7,87.7 493.3,87.7 494.9,87.9 496.5,87.9 498.1,87.8 499.7,87.2 501.3,87.7 502.9,87.6 504.5,87.5 506.1,87.7 507.6,88.4 509.2,87.6 510.8,87.3 512.4,88.0 514.0,87.8 515.6,88.5 517.2,88.0 518.8,88.1 520.4,88.6 522.0,89.0 523.6,89.2 525.2,89.4 526.8,89.5 528.4,89.6 530.0,90.0 531.6,90.8 533.2,91.0 534.8,91.1 536.4,91.2 538.0,91.4 539.6,91.6 541.2,91.3 542.8,91.2 544.4,91.4 546.0,92.3 547.6,91.7 549.2,92.0 550.8,91.1 552.4,91.7 554.0,91.1 555.6,91.1 557.2,91.3 558.8,91.6 560.4,91.8 562.0,92.0 563.6,92.1 565.2,91.9 566.7,92.9 568.3,92.5 569.9,92.5 571.5,93.1 573.1,92.9 574.7,92.8 576.3,92.7 577.9,93.2 579.5,92.4 581.1,92.2 582.7,92.6 584.3,92.0 585.9,92.2 587.5,93.0 589.1,92.7 590.7,92.9 592.3,93.2 593.9,92.6 595.5,92.9 597.1,92.6 598.7,92.2 600.3,92.2 601.9,92.2 603.5,92.0 605.1,91.7 606.7,92.1 608.3,92.1 609.9,92.1 611.5,92.0 613.1,91.9 614.7,92.1 616.3,92.2 617.9,92.9 619.5,93.5 621.1,93.8 622.7,93.8 624.3,93.8 625.8,94.2 627.4,94.5 629.0,95.0 630.6,95.7 632.2,95.4 633.8,96.5 635.4,95.5 637.0,95.1 638.6,95.1 640.2,95.2 641.8,95.5 643.4,96.3 645.0,95.6 646.6,95.9 648.2,95.5 649.8,95.5 651.4,95.0 653.0,96.0 654.6,95.4 656.2,95.0 657.8,95.9 659.4,95.3 661.0,95.2 662.6,95.3 664.2,95.4 665.8,95.4 667.4,96.0 669.0,97.1 670.6,97.3 672.2,97.4 673.8,98.1 675.4,97.9 677.0,98.9 678.6,99.0 680.2,98.8 681.8,99.4 683.4,99.5 684.9,99.4 686.5,99.6 688.1,100.0 689.7,100.4 691.3,99.8 692.9,99.0 694.5,100.2 696.1,99.5 697.7,99.1 699.3,99.1 700.9,98.6 702.5,98.7 704.1,97.8 705.7,97.7 707.3,97.1 708.9,97.7 710.5,97.1 712.1,97.5 713.7,97.9 715.3,97.2 716.9,97.4 718.5,98.0 720.1,98.0 721.7,97.9 723.3,97.9 724.9,97.7 726.5,97.0 728.1,96.7 729.7,96.8 731.3,96.7 732.9,96.7 734.5,96.2 736.1,97.1 737.7,96.7 739.3,96.7 740.9,96.6 742.5,96.6 744.1,96.7 745.6,96.3 747.2,96.5 748.8,96.8 750.4,96.5 752.0,96.5 753.6,96.3 755.2,96.1 756.8,96.5 758.4,95.7 760.0,95.8 761.6,96.3 763.2,96.8 764.8,96.9 766.4,97.4 768.0,99.0 769.6,98.9 771.2,99.3 772.8,99.8 774.4,100.0 776.0,99.6 777.6,99.6 779.2,100.4 780.8,100.6 782.4,100.2 784.0,99.7 785.6,99.1 787.2,97.9 788.8,97.5 790.4,98.8 792.0,98.9 793.6,99.1 795.2,99.2 796.8,100.2 798.4,100.1 800.0,100.3 801.6,101.1 803.2,101.4 804.7,101.7 806.3,101.4 807.9,100.9 809.5,101.8 811.1,102.6 812.7,103.1 814.3,104.1 815.9,104.6 817.5,104.6 819.1,105.7 820.7,106.4 822.3,107.1 823.9,107.8 825.5,106.6 827.1,107.0 828.7,106.9 830.3,106.3 831.9,107.2 833.5,107.9" fill="none" stroke="#00008b" stroke-width="1.0" stroke-dasharray="4.3 1.7"/>
<polyline points="119.5,113.5 121.1,113.3 122.7,112.8 124.3,112.9 125.9,112.4 127.5,111.0 129.1,111.1 130.7,110.2 132.3,108.3 133.9,109.4 135.5,112.1 137.1,112.7 138.7,114.3 140.3,104.6 141.9,103.2 143.5,102.8 145.1,102.8 146.7,104.2 148.3,103.2 149.8,102.8 151.4,102.9 153.0,99.7 154.6,100.0 156.2,101.5 157.8,100.5 159.4,99.8 161.0,98.8 162.6,99.1 164.2,97.5 165.8,95.6 167.4,93.8 169.0,93.0 170.6,92.3 172.2,92.9 173.8,94.3 175.4,94.2 177.0,92.9 178.6,93.8 180.2,92.9 181.8,93.0 183.4,91.6 185.0,91.1 186.6,90.3 188.2,90.4 189.8,90.1 191.4,89.9 193.0,89.9 194.6,90.8 196.2,90.5 197.8,90.4 199.4,90.2 201.0,90.7 202.6,89.2 204.2,88.3 205.8,88.7 207.4,88.7 208.9,88.5 210.5,88.1 212.1,88.5 213.7,88.9 215.3,88.3 216.9,87.9 218.5,88.4 220.1,87.9 221.7,87.6 223.3,87.8 224.9,86.7 226.5,88.2 228.1,87.7 229.7,87.8 231.3,87.7 232.9,87.7 234.5,86.9 236.1,87.6 237.7,87.7 239.3,87.8 240.9,88.3 242.5,88.0 244.1,88.2 245.7,88.3 247.3,88.2 248.9,88.7 250.5,88.5 252.1,88.7 253.7,88.9 255.3,89.0 256.9,88.7 258.5,88.9 260.1,88.7 261.7,88.4 263.3,88.2 264.9,88.3 266.5,88.0 268.1,88.1 269.6,88.0 271.2,87.8 272.8,87.5 274.4,87.4 276.0,87.5 277.6,87.3 279.2,87.4 280.8,87.0 282.4,86.9 284.0,86.8 285.6,86.6 287.2,86.5 288.8,86.4 290.4,86.2 292.0,86.1 293.6,85.9 295.2,86.0 296.8,85.8 298.4,85.7 300.0,85.0 301.6,85.1 303.2,84.9 304.8,85.0 306.4,84.9 308.0,84.9 309.6,85.0 311.2,85.2 312.8,85.3 314.4,85.1 316.0,85.3 317.6,85.1 319.2,85.3 320.8,85.1 322.4,85.4 324.0,85.6 325.6,85.4 327.2,85.5 328.7,85.2 330.3,85.3 331.9,85.7 333.5,85.5 335.1,85.5 336.7,85.3 338.3,85.4 339.9,85.4 341.5,85.7 343.1,85.5 344.7,85.9 346.3,85.5 347.9,85.6 349.5,85.3 351.1,85.4 352.7,85.6 354.3,85.5 355.9,85.3 357.5,85.5 359.1,85.6 360.7,85.5 362.3,85.6 363.9,85.3 365.5,85.6 367.1,85.6 368.7,85.2 370.3,85.6 371.9,85.5 373.5,85.6 375.1,85.3 376.7,85.4 378.3,85.2 379.9,85.6 381.5,85.5 383.1,85.4 384.7,85.5 386.3,85.8 387.8,85.7 389.4,85.9 391.0,85.8 392.6,85.7 394.2,85.9 395.8,86.1 397.4,86.2 399.0,86.4 400.6,86.4 402.2,86.4 403.8,86.6 405.4,86.7 407.0,86.8 408.6,86.9 410.2,86.7 411.8,86.9 413.4,86.9 415.0,87.2 416.6,87.5 418.2,87.3 419.8,87.7 421.4,87.7 423.0,87.8 424.6,87.9 426.2,88.2 427.8,88.2 429.4,88.1 431.0,88.6 432.6,88.7 434.2,89.0 435.8,89.2 437.4,89.1 439.0,89.4 440.6,89.6 442.2,89.7 443.8,89.9 445.4,90.1 446.9,90.2 448.5,90.5 450.1,90.8 451.7,90.8 453.3,91.1 454.9,91.2 456.5,91.3 458.1,91.4 459.7,91.5 461.3,91.8 462.9,91.7 464.5,91.8 466.1,91.8 467.7,91.8 469.3,91.4 470.9,91.8 472.5,91.9 474.1,91.5 475.7,91.9 477.3,92.5 478.9,91.5 480.5,91.4 482.1,92.0 483.7,90.8 485.3,90.8 486.9,91.3 488.5,91.7 490.1,91.9 491.7,91.7 493.3,92.3 494.9,91.5 496.5,90.8 498.1,91.2 499.7,91.8 501.3,92.0 502.9,91.2 504.5,92.2 506.1,92.1 507.6,92.4 509.2,93.4 510.8,93.2 512.4,93.0 514.0,93.3 515.6,93.5 517.2,95.2 518.8,95.5 520.4,96.0 522.0,95.9 523.6,96.2 525.2,97.1 526.8,96.4 528.4,97.9 530.0,97.5 531.6,98.2 533.2,98.8 534.8,98.6 536.4,99.1 538.0,99.3 539.6,100.0 541.2,99.5 542.8,100.0 544.4,99.5 546.0,99.4 547.6,100.4 549.2,100.5 550.8,101.2 552.4,102.1 554.0,102.3 555.6,101.4 557.2,100.0 558.8,100.5 560.4,100.3 562.0,100.1 563.6,99.9 565.2,100.5 566.7,100.7 568.3,100.9 569.9,100.7 571.5,101.5 573.1,101.0 574.7,101.2 576.3,101.2 577.9,101.5 579.5,100.8 581.1,100.8 582.7,100.8 584.3,100.7 585.9,100.6 587.5,100.5 589.1,101.7 590.7,102.7 592.3,102.2 593.9,103.1 595.5,102.8 597.1,103.1 598.7,103.1 600.3,103.2 601.9,103.2 603.5,102.0 605.1,101.8 606.7,102.3 608.3,102.1 609.9,103.0 611.5,102.2 613.1,101.8 614.7,102.6 616.3,101.1 617.9,101.0 619.5,103.1 621.1,102.3 622.7,102.4 624.3,102.3 625.8,102.4 627.4,103.5 629.0,103.9 630.6,105.6 632.2,105.8 633.8,105.6 635.4,104.7 637.0,103.8 638.6,104.0 640.2,103.6 641.8,104.0 643.4,103.1 645.0,103.0 646.6,103.1 648.2,103.1 649.8,102.7 651.4,101.8 653.0,101.5 654.6,102.4 656.2,102.5 657.8,102.1 659.4,103.5 661.0,103.2 662.6,103.5 664.2,103.4 665.8,105.0 667.4,105.4 669.0,106.0 670.6,106.4 672.2,106.9 673.8,108.3 675.4,109.0 677.0,110.1 678.6,109.5 680.2,109.8 681.8,110.7 683.4,111.1 684.9,110.8 686.5,112.0 688.1,112.2 689.7,112.7 691.3,112.9 692.9,113.5 694.5,112.7 696.1,112.4 697.7,112.7 699.3,112.2 700.9,111.5 702.5,111.2 704.1,110.2 705.7,109.6 707.3,107.8 708.9,107.5 710.5,108.5 712.1,108.3 713.7,108.7 715.3,109.3 716.9,109.5 718.5,109.4 720.1,108.8 721.7,107.9 723.3,107.8 724.9,106.7 726.5,105.9 728.1,106.0 729.7,106.1 731.3,105.7 732.9,105.0 734.5,105.0 736.1,105.2 737.7,105.4 739.3,105.9 740.9,105.0 742.5,104.5 744.1,103.4 745.6,104.4 747.2,104.5 748.8,103.9 750.4,103.3 752.0,102.1 753.6,103.1 755.2,102.6 756.8,103.0 758.4,102.5 760.0,102.3 761.6,101.3 763.2,102.1 764.8,101.8 766.4,103.5 768.0,103.8 769.6,103.9 771.2,104.7 772.8,104.9 774.4,105.8 776.0,106.0 777.6,106.0 779.2,106.8 780.8,107.3 782.4,107.0 784.0,106.6 785.6,106.2 787.2,105.2 788.8,105.5 790.4,104.4 792.0,105.6 793.6,106.8 795.2,106.6 796.8,108.1 798.4,109.6 800.0,110.1 801.6,111.6 803.2,112.8 804.7,113.0 806.3,114.2 807.9,115.2 809.5,114.7 811.1,114.4 812.7,115.1 814.3,115.6 815.9,115.7 817.5,116.7 819.1,117.3 820.7,117.9 822.3,118.9 823.9,119.6 825.5,118.9 827.1,118.1 828.7,117.9 830.3,118.2 831.9,118.9 833.5,119.0" fill="none" stroke="#00008b" stroke-width="1.35" stroke-dasharray="5.6 2.3"/>
<polyline points="119.5,135.0 121.1,139.3 122.7,141.2 124.3,140.6 125.9,139.7 127.5,138.6 129.1,137.2 130.7,137.2 132.3,137.1 133.9,138.0 135.5,138.2 137.1,138.0 138.7,137.3 140.3,136.0 141.9,135.0 143.5,133.2 145.1,133.0 146.7,131.5 148.3,130.9 149.8,129.5 151.4,128.5 153.0,127.6 154.6,125.7 156.2,123.8 157.8,123.2 159.4,122.9 161.0,121.9 162.6,120.8 164.2,119.0 165.8,118.5 167.4,117.9 169.0,117.5 170.6,117.7 172.2,117.4 173.8,116.8 175.4,117.0 177.0,117.0 178.6,118.2 180.2,119.4 181.8,117.2 183.4,115.6 185.0,112.7 186.6,110.2 188.2,108.5 189.8,108.3 191.4,108.2 193.0,107.8 194.6,106.5 196.2,107.3 197.8,106.5 199.4,103.9 201.0,102.5 202.6,101.0 204.2,99.8 205.8,99.2 207.4,98.6 208.9,96.6 210.5,99.3 212.1,98.5 213.7,98.1 215.3,96.7 216.9,96.7 218.5,97.0 220.1,96.0 221.7,96.5 223.3,95.8 224.9,96.5 226.5,95.6 228.1,96.2 229.7,94.2 231.3,95.5 232.9,95.1 234.5,94.4 236.1,94.8 237.7,94.8 239.3,95.2 240.9,95.6 242.5,95.9 244.1,96.4 245.7,96.5 247.3,96.9 248.9,96.9 250.5,96.9 252.1,97.1 253.7,97.3 255.3,97.2 256.9,97.7 258.5,97.7 260.1,97.8 261.7,97.8 263.3,97.7 264.9,97.5 266.5,97.7 268.1,97.6 269.6,97.9 271.2,97.7 272.8,97.7 274.4,97.4 276.0,97.3 277.6,96.9 279.2,96.8 280.8,97.0 282.4,96.8 284.0,96.6 285.6,96.4 287.2,96.6 288.8,96.2 290.4,96.2 292.0,95.9 293.6,95.9 295.2,95.4 296.8,95.0 298.4,95.3 300.0,94.9 301.6,94.8 303.2,94.8 304.8,94.6 306.4,94.3 308.0,93.8 309.6,93.7 311.2,93.6 312.8,93.6 314.4,93.4 316.0,93.2 317.6,92.8 319.2,92.7 320.8,92.7 322.4,92.2 324.0,92.0 325.6,92.1 327.2,92.1 328.7,91.8 330.3,91.5 331.9,91.1 333.5,91.1 335.1,90.8 336.7,91.1 338.3,91.3 339.9,91.4 341.5,91.7 343.1,91.4 344.7,91.3 346.3,91.7 347.9,91.6 349.5,91.1 351.1,91.1 352.7,90.8 354.3,90.8 355.9,90.8 357.5,90.8 359.1,90.3 360.7,90.1 362.3,90.2 363.9,90.0 365.5,90.3 367.1,89.9 368.7,89.8 370.3,89.4 371.9,90.0 373.5,90.3 375.1,90.2 376.7,90.2 378.3,90.1 379.9,90.3 381.5,90.7 383.1,91.5 384.7,91.6 386.3,91.6 387.8,91.9 389.4,92.2 391.0,92.5 392.6,92.6 394.2,92.9 395.8,93.5 397.4,93.9 399.0,94.0 400.6,93.8 402.2,92.9 403.8,92.6 405.4,93.3 407.0,93.8 408.6,94.1 410.2,94.9 411.8,95.4 413.4,95.6 415.0,96.2 416.6,96.8 418.2,97.3 419.8,98.1 421.4,98.5 423.0,99.1 424.6,99.9 426.2,99.8 427.8,99.9 429.4,99.8 431.0,100.1 432.6,99.9 434.2,100.3 435.8,100.4 437.4,100.0 439.0,100.0 440.6,100.7 442.2,101.6 443.8,102.5 445.4,103.5 446.9,104.3 448.5,104.9 450.1,105.0 451.7,105.6 453.3,106.3 454.9,106.9 456.5,108.1 458.1,109.3 459.7,110.3 461.3,111.3 462.9,113.0 464.5,113.9 466.1,115.1 467.7,115.6 469.3,116.7 470.9,118.5 472.5,119.5 474.1,117.0 475.7,111.8 477.3,111.2 478.9,111.0 480.5,111.7 482.1,112.4 483.7,112.2 485.3,112.4 486.9,113.0 488.5,112.5 490.1,113.2 491.7,113.8 493.3,114.0 494.9,114.1 496.5,113.8 498.1,114.6 499.7,115.3 501.3,116.7 502.9,116.0 504.5,117.5 506.1,117.4 507.6,119.4 509.2,119.8 510.8,120.9 512.4,122.3 514.0,123.8 515.6,123.1 517.2,124.2 518.8,123.9 520.4,125.6 522.0,126.6 523.6,128.4 525.2,129.1 526.8,129.6 528.4,129.3 530.0,130.1 531.6,130.1 533.2,131.2 534.8,130.9 536.4,133.1 538.0,135.4 539.6,137.2 541.2,136.1 542.8,135.0 544.4,134.5 546.0,134.8 547.6,133.7 549.2,133.7 550.8,132.1 552.4,132.5 554.0,133.6 555.6,132.0 557.2,132.8 558.8,132.8 560.4,132.5 562.0,132.8 563.6,132.6 565.2,131.8 566.7,132.2 568.3,130.8 569.9,132.1 571.5,131.2 573.1,131.2 574.7,129.7 576.3,130.7 577.9,130.3 579.5,129.3 581.1,128.4 582.7,127.7 584.3,126.3 585.9,125.7 587.5,125.0 589.1,125.4 590.7,126.6 592.3,126.9 593.9,126.6 595.5,126.9 597.1,126.7 598.7,126.6 600.3,126.3 601.9,126.7 603.5,127.2 605.1,128.5 606.7,129.1 608.3,130.0 609.9,130.7 611.5,130.5 613.1,129.8 614.7,129.3 616.3,129.1 617.9,129.6 619.5,128.6 621.1,127.9 622.7,129.1 624.3,130.7 625.8,131.5 627.4,131.6 629.0,130.2 630.6,131.1 632.2,132.2 633.8,132.7 635.4,133.0 637.0,131.2 638.6,131.3 640.2,129.9 641.8,130.1 643.4,129.9 645.0,130.4 646.6,129.8 648.2,128.0 649.8,128.2 651.4,128.2 653.0,128.6 654.6,127.0 656.2,126.6 657.8,127.0 659.4,128.4 661.0,128.2 662.6,128.6 664.2,129.1 665.8,129.1 667.4,131.1 669.0,130.6 670.6,133.4 672.2,133.3 673.8,133.7 675.4,134.2 677.0,134.5 678.6,135.2 680.2,135.8 681.8,136.2 683.4,137.4 684.9,139.2 686.5,140.6 688.1,142.8 689.7,144.0 691.3,146.2 692.9,147.0 694.5,147.4 696.1,149.0 697.7,150.1 699.3,150.2 700.9,148.6 702.5,147.3 704.1,146.7 705.7,150.0 707.3,152.9 708.9,151.2 710.5,153.6 712.1,156.9 713.7,154.0 715.3,152.8 716.9,150.9 718.5,151.1 720.1,150.1 721.7,148.0 723.3,148.0 724.9,145.0 726.5,143.1 728.1,144.0 729.7,145.0 731.3,145.0 732.9,144.7 734.5,145.4 736.1,143.8 737.7,143.9 739.3,145.8 740.9,144.6 742.5,143.3 744.1,142.1 745.6,140.8 747.2,141.8 748.8,142.2 750.4,142.0 752.0,141.8 753.6,141.0 755.2,140.7 756.8,141.9 758.4,143.2 760.0,142.0 761.6,141.6 763.2,142.3 764.8,143.9 766.4,146.0 768.0,147.5 769.6,147.8 771.2,149.3 772.8,150.0 774.4,149.4 776.0,149.5 777.6,147.9 779.2,144.4 780.8,142.9 782.4,141.9 784.0,140.0 785.6,138.4 787.2,136.9 788.8,134.3 790.4,137.2 792.0,138.0 793.6,137.4 795.2,136.0 796.8,137.2 798.4,137.2 800.0,138.3 801.6,139.8 803.2,141.3 804.7,143.0 806.3,142.4 807.9,141.0 809.5,140.3 811.1,142.7 812.7,143.4 814.3,143.4 815.9,145.4 817.5,146.7 819.1,148.1 820.7,149.7 822.3,148.7 823.9,149.9 825.5,150.8 827.1,150.4 828.7,152.9 830.3,153.2 831.9,152.9 833.5,152.8" fill="none" stroke="#00008b" stroke-width="1.8" stroke-dasharray="7.6 3.0"/>
<polyline points="119.5,168.0 121.1,167.5 122.7,168.8 124.3,170.5 125.9,169.4 127.5,168.6 129.1,168.3 130.7,167.8 132.3,166.7 133.9,167.2 135.5,169.9 137.1,172.5 138.7,169.7 140.3,170.4 141.9,168.6 143.5,165.4 145.1,166.3 146.7,163.9 148.3,164.7 149.8,163.8 151.4,161.2 153.0,155.2 154.6,155.4 156.2,157.1 157.8,158.1 159.4,157.3 161.0,155.0 162.6,156.1 164.2,154.2 165.8,154.5 167.4,154.8 169.0,155.4 170.6,155.7 172.2,154.0 173.8,153.1 175.4,154.0 177.0,152.8 178.6,153.9 180.2,153.3 181.8,153.7 183.4,154.4 185.0,148.8 186.6,144.3 188.2,141.3 189.8,141.9 191.4,142.6 193.0,142.0 194.6,139.5 196.2,138.2 197.8,137.8 199.4,135.5 201.0,134.8 202.6,131.7 204.2,129.3 205.8,126.4 207.4,125.4 208.9,126.4 210.5,126.0 212.1,123.3 213.7,122.3 215.3,123.2 216.9,124.3 218.5,124.0 220.1,122.8 221.7,122.1 223.3,120.0 224.9,119.6 226.5,119.4 228.1,119.0 229.7,118.6 231.3,117.6 232.9,116.3 234.5,116.1 236.1,114.1 237.7,113.0 239.3,114.0 240.9,113.4 242.5,114.4 244.1,115.3 245.7,116.6 247.3,116.3 248.9,114.7 250.5,116.4 252.1,116.1 253.7,116.1 255.3,115.0 256.9,114.6 258.5,115.3 260.1,114.5 261.7,116.8 263.3,116.7 264.9,117.0 266.5,118.1 268.1,117.9 269.6,119.4 271.2,119.1 272.8,121.6 274.4,121.6 276.0,121.3 277.6,121.7 279.2,123.2 280.8,124.5 282.4,124.2 284.0,125.6 285.6,126.0 287.2,125.7 288.8,125.7 290.4,123.9 292.0,123.5 293.6,123.5 295.2,123.4 296.8,124.2 298.4,125.6 300.0,123.7 301.6,123.6 303.2,122.8 304.8,122.6 306.4,123.5 308.0,122.9 309.6,123.5 311.2,123.6 312.8,123.5 314.4,124.2 316.0,123.1 317.6,123.6 319.2,121.6 320.8,122.7 322.4,124.2 324.0,123.3 325.6,123.6 327.2,123.7 328.7,122.4 330.3,120.5 331.9,119.7 333.5,120.4 335.1,120.1 336.7,120.3 338.3,120.9 339.9,120.6 341.5,123.3 343.1,123.0 344.7,123.5 346.3,123.4 347.9,124.2 349.5,122.9 351.1,124.2 352.7,124.3 354.3,124.0 355.9,122.8 357.5,122.8 359.1,124.0 360.7,125.2 362.3,126.1 363.9,126.4 365.5,125.8 367.1,125.1 368.7,125.0 370.3,123.0 371.9,124.6 373.5,123.1 375.1,122.8 376.7,123.9 378.3,124.7 379.9,124.6 381.5,125.8 383.1,127.0 384.7,128.3 386.3,129.1 387.8,129.2 389.4,130.0 391.0,131.0 392.6,130.1 394.2,129.9 395.8,128.7 397.4,130.7 399.0,133.1 400.6,132.4 402.2,131.2 403.8,131.8 405.4,131.8 407.0,131.7 408.6,129.6 410.2,129.5 411.8,131.3 413.4,132.1 415.0,132.8 416.6,131.9 418.2,133.8 419.8,135.7 421.4,136.1 423.0,137.8 424.6,137.1 426.2,137.1 427.8,138.3 429.4,137.4 431.0,134.3 432.6,133.6 434.2,133.9 435.8,132.4 437.4,132.9 439.0,132.0 440.6,131.9 442.2,130.6 443.8,130.3 445.4,131.2 446.9,131.6 448.5,133.3 450.1,134.2 451.7,135.6 453.3,136.2 454.9,136.5 456.5,135.3 458.1,136.5 459.7,137.2 461.3,139.4 462.9,138.9 464.5,140.6 466.1,143.0 467.7,144.9 469.3,146.7 470.9,147.8 472.5,150.0 474.1,149.8 475.7,148.2 477.3,144.0 478.9,143.5 480.5,145.0 482.1,146.1 483.7,146.3 485.3,146.6 486.9,146.6 488.5,146.3 490.1,146.8 491.7,150.1 493.3,149.1 494.9,150.0 496.5,151.2 498.1,153.5 499.7,154.7 501.3,154.8 502.9,154.5 504.5,155.5 506.1,154.7 507.6,155.7 509.2,156.7 510.8,155.9 512.4,157.8 514.0,158.8 515.6,159.8 517.2,159.5 518.8,160.7 520.4,161.3 522.0,163.4 523.6,166.0 525.2,165.2 526.8,167.6 528.4,167.5 530.0,168.4 531.6,168.8 533.2,170.9 534.8,172.8 536.4,173.6 538.0,175.2 539.6,176.0 541.2,177.6 542.8,177.1 544.4,178.0 546.0,177.0 547.6,180.0 549.2,180.3 550.8,179.3 552.4,179.3 554.0,179.5 555.6,179.3 557.2,178.9 558.8,179.6 560.4,178.0 562.0,176.4 563.6,177.5 565.2,177.9 566.7,177.0 568.3,177.8 569.9,177.1 571.5,176.9 573.1,178.9 574.7,178.8 576.3,178.9 577.9,180.3 579.5,180.1 581.1,179.1 582.7,177.6 584.3,176.0 585.9,173.3 587.5,172.8 589.1,172.0 590.7,171.6 592.3,173.3 593.9,173.4 595.5,175.0 597.1,176.4 598.7,176.9 600.3,175.9 601.9,175.9 603.5,175.7 605.1,175.0 606.7,175.9 608.3,176.7 609.9,179.4 611.5,178.2 613.1,179.1 614.7,179.5 616.3,178.2 617.9,177.8 619.5,177.8 621.1,178.3 622.7,180.6 624.3,180.3 625.8,180.2 627.4,179.9 629.0,181.3 630.6,182.2 632.2,183.5 633.8,183.0 635.4,182.5 637.0,182.4 638.6,184.6 640.2,184.3 641.8,183.6 643.4,182.5 645.0,182.3 646.6,182.5 648.2,182.7 649.8,183.4 651.4,182.8 653.0,184.8 654.6,183.3 656.2,184.3 657.8,185.5 659.4,187.3 661.0,189.3 662.6,190.2 664.2,190.5 665.8,191.6 667.4,191.9 669.0,191.2 670.6,191.7 672.2,190.6 673.8,191.8 675.4,190.5 677.0,192.9 678.6,191.9 680.2,192.6 681.8,192.3 683.4,191.5 684.9,193.0 686.5,194.5 688.1,193.6 689.7,195.9 691.3,195.7 692.9,194.3 694.5,194.2 696.1,195.5 697.7,197.1 699.3,197.3 700.9,198.6 702.5,199.5 704.1,199.7 705.7,201.2 707.3,200.9 708.9,201.0 710.5,200.1 712.1,200.1 713.7,200.3 715.3,201.3 716.9,201.7 718.5,202.5 720.1,201.7 721.7,199.4 723.3,198.8 724.9,199.7 726.5,197.8 728.1,197.1 729.7,197.8 731.3,199.4 732.9,200.3 734.5,199.6 736.1,199.3 737.7,197.9 739.3,195.6 740.9,197.4 742.5,195.7 744.1,193.0 745.6,194.9 747.2,194.7 748.8,193.8 750.4,192.9 752.0,192.2 753.6,189.3 755.2,190.8 756.8,193.8 758.4,197.2 760.0,197.6 761.6,197.7 763.2,199.7 764.8,196.8 766.4,199.2 768.0,199.8 769.6,197.8 771.2,198.1 772.8,197.8 774.4,197.5 776.0,196.6 777.6,196.0 779.2,196.6 780.8,195.3 782.4,194.6 784.0,193.6 785.6,191.7 787.2,193.0 788.8,192.7 790.4,190.0 792.0,190.1 793.6,190.1 795.2,190.5 796.8,191.6 798.4,195.2 800.0,194.1 801.6,195.3 803.2,195.6 804.7,199.2 806.3,198.3 807.9,197.8 809.5,196.8 811.1,197.1 812.7,196.8 814.3,197.9 815.9,198.4 817.5,199.5 819.1,199.9 820.7,201.0 822.3,201.1 823.9,200.9 825.5,201.2 827.1,204.5 828.7,205.3 830.3,206.4 831.9,205.6 833.5,204.1" fill="none" stroke="#000" stroke-width="2.9" stroke-linejoin="round"/>
</g>
<g id="axes">
<rect x="119.5" y="39.2" width="714.0" height="726.0" fill="none" stroke="#000" stroke-width="1.33"/>
<line x1="119.5" y1="765.2" x2="119.5" y2="771.4000000000001" stroke="#000" stroke-width="1.33"/>
<text x="119.1" y="789.2" text-anchor="middle" class="tk">0</text>
<line x1="199.4" y1="765.2" x2="199.4" y2="771.4000000000001" stroke="#000" stroke-width="1.33"/>
<text x="199.0" y="789.2" text-anchor="middle" class="tk">50</text>
<line x1="279.3" y1="765.2" x2="279.3" y2="771.4000000000001" stroke="#000" stroke-width="1.33"/>
<text x="278.90000000000003" y="789.2" text-anchor="middle" class="tk">100</text>
<line x1="359.1" y1="765.2" x2="359.1" y2="771.4000000000001" stroke="#000" stroke-width="1.33"/>
<text x="358.70000000000005" y="789.2" text-anchor="middle" class="tk">150</text>
<line x1="439.0" y1="765.2" x2="439.0" y2="771.4000000000001" stroke="#000" stroke-width="1.33"/>
<text x="438.6" y="789.2" text-anchor="middle" class="tk">200</text>
<line x1="518.9" y1="765.2" x2="518.9" y2="771.4000000000001" stroke="#000" stroke-width="1.33"/>
<text x="518.5" y="789.2" text-anchor="middle" class="tk">250</text>
<line x1="598.8" y1="765.2" x2="598.8" y2="771.4000000000001" stroke="#000" stroke-width="1.33"/>
<text x="598.4" y="789.2" text-anchor="middle" class="tk">300</text>
<line x1="678.6" y1="765.2" x2="678.6" y2="771.4000000000001" stroke="#000" stroke-width="1.33"/>
<text x="678.2" y="789.2" text-anchor="middle" class="tk">350</text>
<line x1="758.5" y1="765.2" x2="758.5" y2="771.4000000000001" stroke="#000" stroke-width="1.33"/>
<text x="758.1" y="789.2" text-anchor="middle" class="tk">400</text>
<line x1="113.3" y1="100.2" x2="119.5" y2="100.2" stroke="#000" stroke-width="1.33"/>
<text x="106.4" y="106.4" text-anchor="end" class="tk">1000</text>
<line x1="113.3" y1="257.5" x2="119.5" y2="257.5" stroke="#000" stroke-width="1.33"/>
<text x="106.4" y="263.7" text-anchor="end" class="tk">800</text>
<line x1="113.3" y1="414.8" x2="119.5" y2="414.8" stroke="#000" stroke-width="1.33"/>
<text x="106.4" y="421.0" text-anchor="end" class="tk">600</text>
<line x1="113.3" y1="572.1" x2="119.5" y2="572.1" stroke="#000" stroke-width="1.33"/>
<text x="106.4" y="578.3000000000001" text-anchor="end" class="tk">400</text>
<line x1="113.3" y1="729.4" x2="119.5" y2="729.4" stroke="#000" stroke-width="1.33"/>
<text x="106.4" y="735.6" text-anchor="end" class="tk">200</text>
<text x="476.4" y="811.2" text-anchor="middle">Binned row index</text>
<text transform="translate(54.0,403.8) rotate(-90)" text-anchor="middle">Aerosol mid pressure [hPa]</text>
</g>
<g id="legend">
<rect x="119.5" y="17.0" width="713.3" height="22.2" rx="2.7" fill="#fff" fill-opacity="0.8" stroke="#d6d6d6" stroke-width="1.5"/>
<line x1="120.2" y1="39.25" x2="832.8" y2="39.25" stroke="#707070" stroke-width="1.45"/>
<line x1="124.3" y1="27.4" x2="147.5" y2="27.4" stroke="#0000ff" stroke-opacity="0.2" stroke-width="0.8" stroke-dasharray="2.9 1.25"/>
<text x="156.5" y="31.8" class="lt">1-99%</text>
<line x1="278" y1="27.4" x2="301.2" y2="27.4" stroke="#0000ff" stroke-opacity="0.3" stroke-width="1.15" stroke-dasharray="4.2 1.8"/>
<text x="310.5" y="31.8" class="lt">5-95%</text>
<line x1="432" y1="27.4" x2="455.2" y2="27.4" stroke="#0000ff" stroke-opacity="0.45" stroke-width="1.5" stroke-dasharray="5.5 2.4"/>
<text x="464" y="31.8" class="lt">10-90%</text>
<line x1="592.9" y1="27.4" x2="616.1" y2="27.4" stroke="#0000ff" stroke-opacity="0.6" stroke-width="2.0" stroke-dasharray="7.4 3.2"/>
<text x="626.2" y="31.8" class="lt">25-75%</text>
<line x1="754.2" y1="27.4" x2="777.4000000000001" y2="27.4" stroke="#000" stroke-opacity="1" stroke-width="3.1" stroke-linecap="square"/>
<text x="787.3" y="31.8" class="lt">Median</text>
</g>
</svg>
</body></html>
